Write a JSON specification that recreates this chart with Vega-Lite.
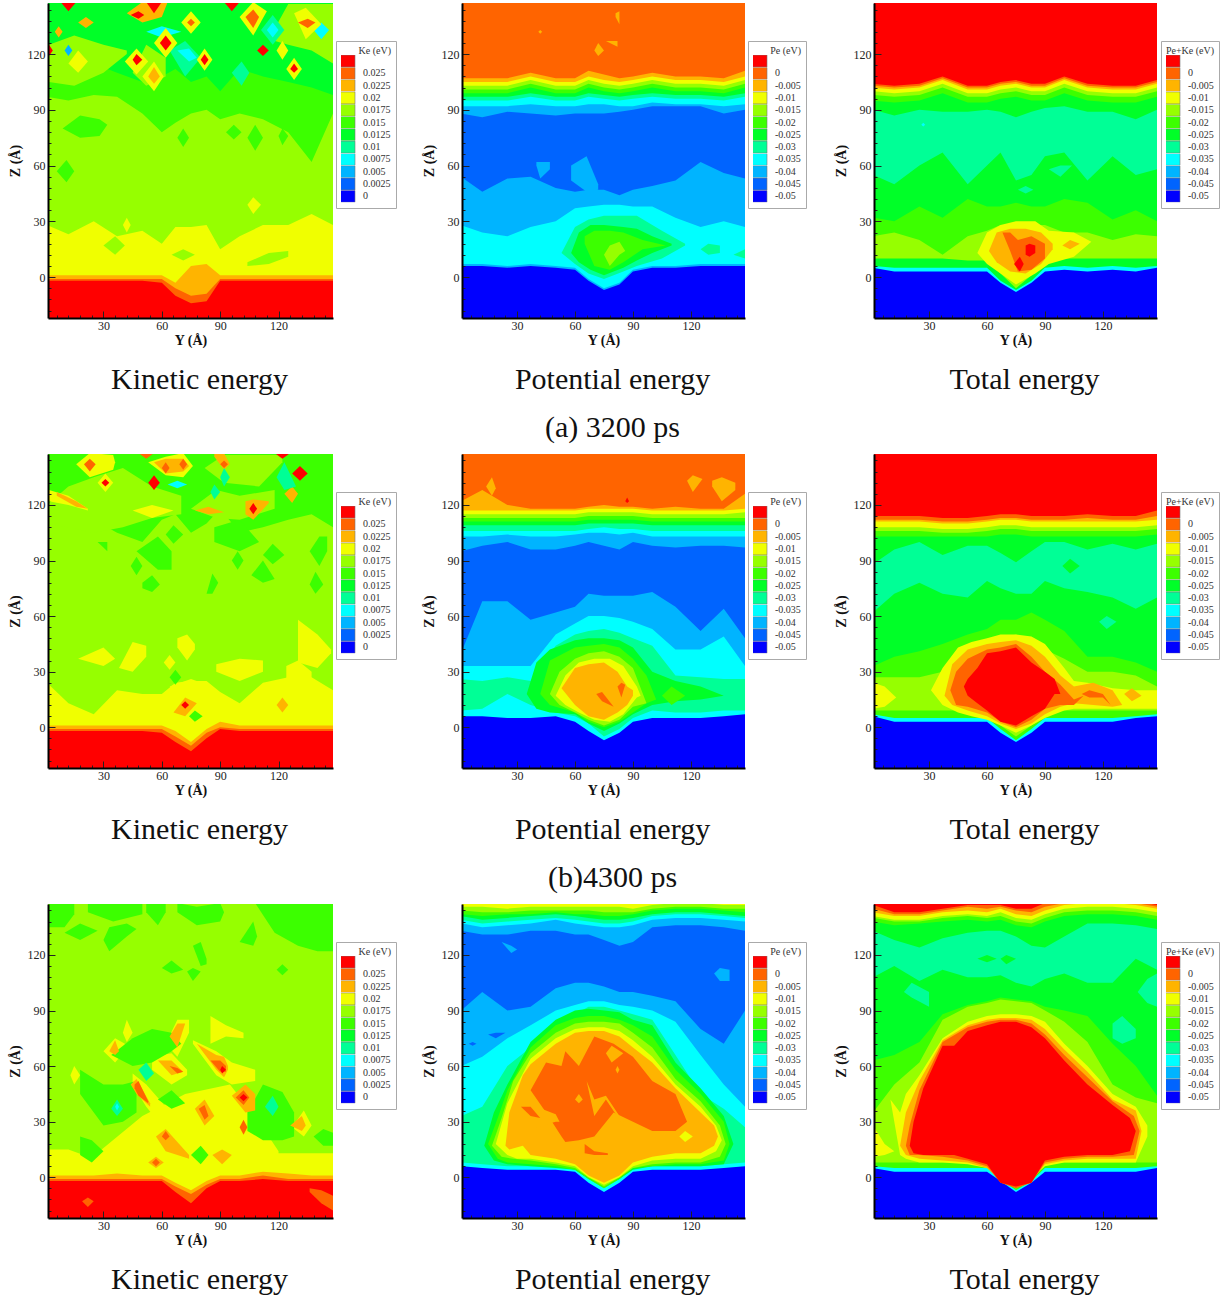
{"$schema":"https://vega.github.io/schema/vega-lite/v6.json","padding":{"left":8,"top":3,"right":0,"bottom":0},"background":"white","spacing":11,"resolve":{"scale":{"color":"independent"},"legend":{"color":"independent"}},
"config":{"view":{"stroke":null},"range":{"category":["#ff0000","#ff6400","#ffb400","#f0ff00","#96ff00","#3cff00","#00ff28","#00ff96","#00ffff","#00b4ff","#0064ff","#0000ff"]},"title":{"font":"Liberation Serif","fontSize":30,"fontWeight":"normal","color":"#111","orient":"bottom","frame":"group","offset":18,"dx":9,"lineHeight":48},"axis":{"grid":false,"labelFont":"Liberation Serif","labelFontSize":12,"labelColor":"#222","titleFont":"Liberation Serif","titleFontSize":14,"titleFontWeight":"bold","titleColor":"#111","domainColor":"#000","domainWidth":2,"tickColor":"#222","tickWidth":1,"labelOverlap":false,"labelBound":false,"labelFlush":false},"axisX":{"labelPadding":9,"titlePadding":-2},"axisY":{"labelPadding":10,"titlePadding":5},"legend":{"orient":"none","symbolType":"M-1.25,-1H1.25V1H-1.25Z","symbolSize":144,"symbolStrokeColor":"#777","symbolStrokeWidth":0.6,"clipHeight":12,"rowPadding":0.3,"labelFont":"Liberation Serif","labelFontSize":10,"labelColor":"#333","labelOffset":9,"titleFont":"Liberation Serif","titleFontSize":10,"titleFontWeight":"normal","titleColor":"#333","titleAnchor":"end","titlePadding":-1,"strokeColor":"#aaa","fillColor":"white","padding":5}},
"vconcat":[{"bounds":"flush","spacing":129,"resolve":{"scale":{"color":"independent"},"legend":{"color":"independent"}},"hconcat":[
{"width":285,"height":315,"title":"Kinetic energy",
"encoding":{"x":{"field":"x","type":"quantitative","scale":{"domain":[1.5,148],"nice":false},"axis":{"zindex":1,"title":"Y (Å)","values":[6,12,18,24,30,36,42,48,54,60,66,72,78,84,90,96,102,108,114,120,126,132,138,144],"labelExpr":"datum.value%30?'':datum.label","tickSize":{"condition":{"test":"datum.value%30===0","value":-7},"value":-3}}},"y":{"field":"z","type":"quantitative","scale":{"domain":[-22,147.5],"nice":false},"axis":{"zindex":1,"title":"Z (Å)","values":[-18,-12,-6,0,6,12,18,24,30,36,42,48,54,60,66,72,78,84,90,96,102,108,114,120,126,132,138,144],"labelExpr":"datum.value%30?'':datum.label","tickSize":{"condition":{"test":"datum.value%30===0","value":-7},"value":-3}}},"y2":{"field":"t"},"detail":{"field":"k"},"color":{"field":"l","type":"nominal","scale":{"domain":["l","k","j","i","h","g","f","e","d","c","b","a"]},"legend":{"title":"Ke (eV)","legendX":288,"legendY":38,"labelExpr":"['','0.025','0.0225','0.02','0.0175','0.015','0.0125','0.01','0.0075','0.005','0.0025','0'][indexof('lkjihgfedcba',datum.value)]"}}},
"layer":[{"data":{"values":[
{"x":1,"l0":-23,"k1":-2,"j2":-1,"i3":1,"h4":28,"g5":97,"f6":118},{"x":12,"l0":-23,"k1":-2,"j2":-1,"i3":1,"h4":23,"g5":95,"f6":120},{"x":25,"l0":-23,"k1":-2,"j2":-1,"i3":1,"h4":30,"g5":98,"f6":115},{"x":37,"l0":-23,"k1":-2,"j2":-1,"i3":1,"h4":22,"g5":97,"f6":110},{"x":50,"l0":-23,"k1":-2,"j2":-1,"i3":1,"h4":25,"g5":88,"f6":105},{"x":60,"l0":-23,"k1":-3,"j2":-1,"i3":1,"h4":18,"g5":78,"f6":108},{"x":67,"l0":-23,"k1":-10,"j2":-6,"i3":-3,"h4":27,"g5":83,"f6":112},{"x":75,"l0":-23,"k1":-14,"j2":-10,"i3":6,"h4":27,"g5":88,"f6":105},{"x":83,"l0":-23,"k1":-13,"j2":-9,"i3":7,"h4":28,"g5":90,"f6":108},{"x":90,"l0":-23,"k1":-2,"j2":-1,"i3":1,"h4":15,"g5":85,"f6":100},{"x":100,"l0":-23,"k1":-2,"j2":-1,"i3":1,"h4":22,"g5":88,"f6":112},{"x":112,"l0":-23,"k1":-2,"j2":-1,"i3":1,"h4":28,"g5":85,"f6":108},{"x":125,"l0":-23,"k1":-2,"j2":-1,"i3":1,"h4":28,"g5":78,"f6":105},{"x":137,"l0":-23,"k1":-2,"j2":-1,"i3":1,"h4":34,"g5":62,"f6":102},{"x":148,"l0":-23,"k1":-2,"j2":-1,"i3":1,"h4":28,"g5":88,"f6":98}]},
"transform":[{"fold":["l0","k1","j2","i3","h4","g5","f6"],"as":["k","z"]},{"calculate":"substring(datum.k,0,1)","as":"l"},{"calculate":"150","as":"t"}],"mark":{"type":"area","clip":true}},
{"data":{"values":[
{"k":1,"l":"h","x":2,"z":105,"t":125},{"k":1,"l":"h","x":15,"z":103,"t":130},{"k":1,"l":"h","x":30,"z":110,"t":125},{"k":1,"l":"h","x":42,"z":120,"t":122},
{"k":2,"l":"h","x":45,"z":110,"t":110},{"k":2,"l":"h","x":52,"z":103,"t":125},{"k":2,"l":"h","x":62,"z":108,"t":118},
{"k":3,"l":"h","x":115,"z":128,"t":128},{"k":3,"l":"h","x":125,"z":125,"t":147},{"k":3,"l":"h","x":137,"z":122,"t":147},{"k":3,"l":"h","x":148,"z":115,"t":147},
{"k":4,"l":"g","x":6,"z":57,"t":57},{"k":4,"l":"g","x":11,"z":51,"t":63},{"k":4,"l":"g","x":15,"z":57,"t":57},
{"k":5,"l":"g","x":9,"z":80,"t":80},{"k":5,"l":"g","x":18,"z":75,"t":87},{"k":5,"l":"g","x":28,"z":76,"t":85},{"k":5,"l":"g","x":32,"z":82,"t":82},
{"k":6,"l":"g","x":68,"z":75,"t":75},{"k":6,"l":"g","x":71,"z":70,"t":80},{"k":6,"l":"g","x":74,"z":75,"t":75},
{"k":7,"l":"g","x":93,"z":78,"t":78},{"k":7,"l":"g","x":97,"z":74,"t":82},{"k":7,"l":"g","x":101,"z":78,"t":78},
{"k":8,"l":"g","x":104,"z":75,"t":75},{"k":8,"l":"g","x":108,"z":68,"t":82},{"k":8,"l":"g","x":112,"z":75,"t":75},
{"k":9,"l":"g","x":120,"z":76,"t":76},{"k":9,"l":"g","x":122,"z":71,"t":80},{"k":9,"l":"g","x":125,"z":76,"t":76},
{"k":10,"l":"h","x":30,"z":17,"t":17},{"k":10,"l":"h","x":36,"z":12,"t":22},{"k":10,"l":"h","x":41,"z":17,"t":17},
{"k":11,"l":"h","x":104,"z":6,"t":8},{"k":11,"l":"h","x":115,"z":7,"t":13},{"k":11,"l":"h","x":125,"z":11,"t":14},
{"k":12,"l":"h","x":65,"z":12,"t":12},{"k":12,"l":"h","x":71,"z":9,"t":15},{"k":12,"l":"h","x":77,"z":12,"t":12},
{"k":13,"l":"i","x":104,"z":39,"t":39},{"k":13,"l":"i","x":107,"z":34,"t":43},{"k":13,"l":"i","x":111,"z":39,"t":39},
{"k":14,"l":"i","x":40,"z":28,"t":28},{"k":14,"l":"i","x":42,"z":24,"t":32},{"k":14,"l":"i","x":44,"z":28,"t":28},
{"k":20,"l":"e","x":111,"z":133,"t":133},{"k":20,"l":"e","x":117,"z":125,"t":141},{"k":20,"l":"e","x":123,"z":133,"t":133},
{"k":21,"l":"d","x":114,"z":133,"t":133},{"k":21,"l":"d","x":117,"z":129,"t":137},{"k":21,"l":"d","x":120,"z":133,"t":133},
{"k":22,"l":"e","x":64,"z":122,"t":122},{"k":22,"l":"e","x":72,"z":108,"t":127},{"k":22,"l":"e","x":80,"z":118,"t":118},
{"k":23,"l":"d","x":68,"z":122,"t":122},{"k":23,"l":"d","x":74,"z":116,"t":123},{"k":23,"l":"d","x":78,"z":118,"t":118},
{"k":24,"l":"d","x":52,"z":132,"t":132},{"k":24,"l":"d","x":60,"z":129,"t":135},{"k":24,"l":"d","x":70,"z":132,"t":132},
{"k":25,"l":"c","x":10,"z":122,"t":122},{"k":25,"l":"c","x":12,"z":119,"t":125},{"k":25,"l":"c","x":14,"z":122,"t":122},
{"k":26,"l":"d","x":138,"z":133,"t":133},{"k":26,"l":"d","x":142,"z":128,"t":137},{"k":26,"l":"d","x":146,"z":133,"t":133},
{"k":27,"l":"e","x":96,"z":110,"t":110},{"k":27,"l":"e","x":101,"z":103,"t":116},{"k":27,"l":"e","x":105,"z":110,"t":110},
{"k":30,"l":"i","x":56,"z":126,"t":126},{"k":30,"l":"i","x":62,"z":118,"t":134},{"k":30,"l":"i","x":68,"z":126,"t":126},
{"k":31,"l":"l","x":59,"z":126,"t":126},{"k":31,"l":"l","x":62,"z":122,"t":130},{"k":31,"l":"l","x":65,"z":126,"t":126},
{"k":32,"l":"i","x":41,"z":116,"t":116},{"k":32,"l":"i","x":47,"z":109,"t":123},{"k":32,"l":"i","x":53,"z":116,"t":116},
{"k":33,"l":"l","x":45,"z":117,"t":117},{"k":33,"l":"l","x":47,"z":114,"t":120},{"k":33,"l":"l","x":50,"z":117,"t":117},
{"k":34,"l":"i","x":78,"z":117,"t":117},{"k":34,"l":"i","x":82,"z":111,"t":123},{"k":34,"l":"i","x":86,"z":117,"t":117},
{"k":35,"l":"l","x":80,"z":117,"t":117},{"k":35,"l":"l","x":82,"z":114,"t":120},{"k":35,"l":"l","x":84,"z":117,"t":117},
{"k":36,"l":"i","x":50,"z":108,"t":108},{"k":36,"l":"i","x":56,"z":100,"t":116},{"k":36,"l":"i","x":61,"z":108,"t":108},
{"k":37,"l":"j","x":53,"z":108,"t":108},{"k":37,"l":"j","x":56,"z":104,"t":113},{"k":37,"l":"j","x":59,"z":108,"t":108},
{"k":38,"l":"j","x":42,"z":142,"t":142},{"k":38,"l":"j","x":50,"z":137,"t":148},{"k":38,"l":"j","x":60,"z":140,"t":148},{"k":38,"l":"j","x":63,"z":148,"t":148},
{"k":39,"l":"l","x":44,"z":141,"t":141},{"k":39,"l":"l","x":48,"z":139,"t":143},{"k":39,"l":"l","x":51,"z":141,"t":141},
{"k":40,"l":"l","x":52,"z":148,"t":148},{"k":40,"l":"l","x":56,"z":142,"t":148},{"k":40,"l":"l","x":60,"z":148,"t":148},
{"k":41,"l":"l","x":8,"z":148,"t":148},{"k":41,"l":"l","x":12,"z":143,"t":148},{"k":41,"l":"l","x":16,"z":148,"t":148},
{"k":42,"l":"l","x":92,"z":148,"t":148},{"k":42,"l":"l","x":96,"z":143,"t":148},{"k":42,"l":"l","x":100,"z":148,"t":148},
{"k":43,"l":"i","x":100,"z":140,"t":140},{"k":43,"l":"i","x":107,"z":130,"t":148},{"k":43,"l":"i","x":114,"z":143,"t":143},
{"k":44,"l":"k","x":103,"z":140,"t":140},{"k":44,"l":"k","x":107,"z":134,"t":144},{"k":44,"l":"k","x":110,"z":140,"t":140},
{"k":45,"l":"i","x":128,"z":142,"t":142},{"k":45,"l":"i","x":134,"z":128,"t":145},{"k":45,"l":"i","x":142,"z":136,"t":136},
{"k":46,"l":"k","x":130,"z":137,"t":137},{"k":46,"l":"k","x":135,"z":134,"t":139},{"k":46,"l":"k","x":139,"z":137,"t":137},
{"k":47,"l":"i","x":70,"z":137,"t":137},{"k":47,"l":"i","x":75,"z":131,"t":143},{"k":47,"l":"i","x":80,"z":137,"t":137},
{"k":48,"l":"k","x":73,"z":137,"t":137},{"k":48,"l":"k","x":75,"z":135,"t":139},{"k":48,"l":"k","x":77,"z":137,"t":137},
{"k":49,"l":"j","x":17,"z":137,"t":137},{"k":49,"l":"j","x":21,"z":134,"t":140},{"k":49,"l":"j","x":25,"z":137,"t":137},
{"k":50,"l":"i","x":124,"z":112,"t":112},{"k":50,"l":"i","x":128,"z":106,"t":118},{"k":50,"l":"i","x":132,"z":112,"t":112},
{"k":51,"l":"l","x":126,"z":112,"t":112},{"k":51,"l":"l","x":128,"z":110,"t":115},{"k":51,"l":"l","x":130,"z":112,"t":112},
{"k":52,"l":"l","x":109,"z":122,"t":122},{"k":52,"l":"l","x":112,"z":119,"t":125},{"k":52,"l":"l","x":115,"z":122,"t":122},
{"k":53,"l":"i","x":119,"z":122,"t":122},{"k":53,"l":"i","x":122,"z":117,"t":127},{"k":53,"l":"i","x":125,"z":122,"t":122},
{"k":54,"l":"l","x":1,"z":122,"t":122},{"k":54,"l":"l","x":2,"z":119,"t":125},{"k":54,"l":"l","x":4,"z":122,"t":122},
{"k":55,"l":"j","x":5,"z":132,"t":132},{"k":55,"l":"j","x":7,"z":129,"t":135},{"k":55,"l":"j","x":9,"z":132,"t":132},
{"k":56,"l":"i","x":12,"z":115,"t":115},{"k":56,"l":"i","x":17,"z":110,"t":122},{"k":56,"l":"i","x":22,"z":116,"t":116}]},"mark":{"type":"area","clip":true}}]},
{"width":283,"height":315,"title":["Potential energy","(a) 3200 ps"],
"encoding":{"x":{"field":"x","type":"quantitative","scale":{"domain":[1.5,148],"nice":false},"axis":{"zindex":1,"title":"Y (Å)","values":[6,12,18,24,30,36,42,48,54,60,66,72,78,84,90,96,102,108,114,120,126,132,138,144],"labelExpr":"datum.value%30?'':datum.label","tickSize":{"condition":{"test":"datum.value%30===0","value":-7},"value":-3}}},"y":{"field":"z","type":"quantitative","scale":{"domain":[-22,147.5],"nice":false},"axis":{"zindex":1,"title":"Z (Å)","values":[-18,-12,-6,0,6,12,18,24,30,36,42,48,54,60,66,72,78,84,90,96,102,108,114,120,126,132,138,144],"labelExpr":"datum.value%30?'':datum.label","tickSize":{"condition":{"test":"datum.value%30===0","value":-7},"value":-3}}},"y2":{"field":"t"},"detail":{"field":"k"},"color":{"field":"l","type":"nominal","scale":{"domain":["l","k","j","i","h","g","f","e","d","c","b","a"]},"legend":{"title":"Pe (eV)","legendX":286,"legendY":38,"labelExpr":"['','0','-0.005','-0.01','-0.015','-0.02','-0.025','-0.03','-0.035','-0.04','-0.045','-0.05'][indexof('lkjihgfedcba',datum.value)]"}}},
"layer":[{"data":{"values":[
{"x":1,"a0":-23,"c1":6,"d2":7,"c3":28,"b4":54,"c5":88,"d6":92,"e7":95,"f8":97,"g9":99,"h10":101,"i11":103,"j12":105,"k13":107},{"x":12,"a0":-23,"c1":6,"d2":7,"c3":24,"b4":46,"c5":86,"d6":92,"e7":95,"f8":97,"g9":99,"h10":101,"i11":103,"j12":105,"k13":107},{"x":25,"a0":-23,"c1":5,"d2":6,"c3":22,"b4":53,"c5":89,"d6":92,"e7":95,"f8":97,"g9":99,"h10":101,"i11":103,"j12":105,"k13":107},{"x":37,"a0":-23,"c1":6,"d2":7,"c3":27,"b4":54,"c5":88,"d6":93,"e7":97,"f8":99,"g9":102,"h10":104,"i11":106,"j12":108,"k13":110},{"x":50,"a0":-23,"c1":5,"d2":6,"c3":30,"b4":48,"c5":87,"d6":92,"e7":95,"f8":97,"g9":99,"h10":101,"i11":103,"j12":105,"k13":107},{"x":60,"a0":-23,"c1":4,"d2":5,"c3":37,"b4":46,"c5":88,"d6":92,"e7":95,"f8":97,"g9":99,"h10":101,"i11":103,"j12":105,"k13":107},{"x":67,"a0":-23,"c1":-2,"d2":-1,"c3":38,"b4":47,"c5":88,"d6":93,"e7":97,"f8":99,"g9":102,"h10":104,"i11":106,"j12":108,"k13":111},{"x":75,"a0":-23,"c1":-7,"d2":-6,"c3":39,"b4":47,"c5":88,"d6":93,"e7":96,"f8":98,"g9":100,"h10":102,"i11":104,"j12":106,"k13":109},{"x":83,"a0":-23,"c1":-4,"d2":-3,"c3":39,"b4":44,"c5":89,"d6":92,"e7":95,"f8":97,"g9":99,"h10":101,"i11":103,"j12":105,"k13":107},{"x":90,"a0":-23,"c1":3,"d2":4,"c3":38,"b4":47,"c5":90,"d6":92,"e7":96,"f8":98,"g9":100,"h10":102,"i11":104,"j12":106,"k13":108},{"x":100,"a0":-23,"c1":5,"d2":6,"c3":38,"b4":49,"c5":92,"d6":94,"e7":97,"f8":99,"g9":102,"h10":104,"i11":106,"j12":108,"k13":110},{"x":112,"a0":-23,"c1":5,"d2":6,"c3":32,"b4":52,"c5":92,"d6":93,"e7":96,"f8":98,"g9":100,"h10":102,"i11":104,"j12":106,"k13":108},{"x":125,"a0":-23,"c1":6,"d2":7,"c3":27,"b4":62,"c5":92,"d6":93,"e7":96,"f8":98,"g9":100,"h10":102,"i11":104,"j12":106,"k13":108},{"x":137,"a0":-23,"c1":6,"d2":7,"c3":30,"b4":56,"c5":88,"d6":92,"e7":95,"f8":97,"g9":99,"h10":101,"i11":103,"j12":105,"k13":107},{"x":148,"a0":-23,"c1":6,"d2":7,"c3":27,"b4":53,"c5":90,"d6":93,"e7":97,"f8":99,"g9":102,"h10":104,"i11":106,"j12":108,"k13":111}]},
"transform":[{"fold":["a0","c1","d2","c3","b4","c5","d6","e7","f8","g9","h10","i11","j12","k13"],"as":["k","z"]},{"calculate":"substring(datum.k,0,1)","as":"l"},{"calculate":"150","as":"t"}],"mark":{"type":"area","clip":true}},
{"data":{"values":[
{"k":1,"l":"e","x":53,"z":13,"t":13},{"k":1,"l":"e","x":60,"z":7,"t":27},{"k":1,"l":"e","x":67,"z":2,"t":31},{"k":1,"l":"e","x":75,"z":-1,"t":33},{"k":1,"l":"e","x":85,"z":3,"t":33},{"k":1,"l":"e","x":92,"z":6,"t":33},{"k":1,"l":"e","x":105,"z":10,"t":25},{"k":1,"l":"e","x":117,"z":17,"t":18},
{"k":2,"l":"f","x":58,"z":13,"t":13},{"k":2,"l":"f","x":62,"z":8,"t":24},{"k":2,"l":"f","x":68,"z":4,"t":28},{"k":2,"l":"f","x":75,"z":1,"t":28},{"k":2,"l":"f","x":85,"z":5,"t":27},{"k":2,"l":"f","x":92,"z":9,"t":26},{"k":2,"l":"f","x":100,"z":13,"t":22},{"k":2,"l":"f","x":110,"z":17,"t":18},
{"k":3,"l":"g","x":65,"z":18,"t":22},{"k":3,"l":"g","x":70,"z":6,"t":25},{"k":3,"l":"g","x":78,"z":4,"t":25},{"k":3,"l":"g","x":85,"z":8,"t":24},{"k":3,"l":"g","x":95,"z":15,"t":20},{"k":3,"l":"g","x":107,"z":17,"t":17},
{"k":4,"l":"h","x":75,"z":12,"t":12},{"k":4,"l":"h","x":78,"z":6,"t":17},{"k":4,"l":"h","x":83,"z":12,"t":19},{"k":4,"l":"h","x":86,"z":14,"t":14},
{"k":5,"l":"e","x":125,"z":15,"t":15},{"k":5,"l":"e","x":129,"z":12,"t":18},{"k":5,"l":"e","x":135,"z":13,"t":17},
{"k":6,"l":"e","x":142,"z":12,"t":12},{"k":6,"l":"e","x":148,"z":10,"t":15},
{"k":7,"l":"j","x":70,"z":122,"t":122},{"k":7,"l":"j","x":72,"z":119,"t":126},{"k":7,"l":"j","x":75,"z":122,"t":122},
{"k":8,"l":"j","x":76,"z":127,"t":127},{"k":8,"l":"j","x":82,"z":124,"t":127},
{"k":9,"l":"j","x":81,"z":140,"t":142},{"k":9,"l":"j","x":83,"z":136,"t":143},
{"k":10,"l":"j","x":41,"z":132,"t":132},{"k":10,"l":"j","x":42,"z":131,"t":133},{"k":10,"l":"j","x":43,"z":132,"t":132},
{"k":11,"l":"c","x":40,"z":60,"t":62},{"k":11,"l":"c","x":42,"z":53,"t":62},{"k":11,"l":"c","x":47,"z":58,"t":62},
{"k":12,"l":"c","x":58,"z":52,"t":60},{"k":12,"l":"c","x":66,"z":46,"t":65},{"k":12,"l":"c","x":72,"z":47,"t":50}]},"mark":{"type":"area","clip":true}}]},
{"width":283,"height":315,"title":"Total energy",
"encoding":{"x":{"field":"x","type":"quantitative","scale":{"domain":[1.5,148],"nice":false},"axis":{"zindex":1,"title":"Y (Å)","values":[6,12,18,24,30,36,42,48,54,60,66,72,78,84,90,96,102,108,114,120,126,132,138,144],"labelExpr":"datum.value%30?'':datum.label","tickSize":{"condition":{"test":"datum.value%30===0","value":-7},"value":-3}}},"y":{"field":"z","type":"quantitative","scale":{"domain":[-22,147.5],"nice":false},"axis":{"zindex":1,"title":"Z (Å)","values":[-18,-12,-6,0,6,12,18,24,30,36,42,48,54,60,66,72,78,84,90,96,102,108,114,120,126,132,138,144],"labelExpr":"datum.value%30?'':datum.label","tickSize":{"condition":{"test":"datum.value%30===0","value":-7},"value":-3}}},"y2":{"field":"t"},"detail":{"field":"k"},"color":{"field":"l","type":"nominal","scale":{"domain":["l","k","j","i","h","g","f","e","d","c","b","a"]},"legend":{"title":"Pe+Ke (eV)","legendX":287,"legendY":38,"labelExpr":"['','0','-0.005','-0.01','-0.015','-0.02','-0.025','-0.03','-0.035','-0.04','-0.045','-0.05'][indexof('lkjihgfedcba',datum.value)]"}}},
"layer":[{"data":{"values":[
{"x":1,"a0":-23,"d1":5,"f2":6,"h3":10,"g4":22,"f5":32,"e6":55,"f7":90,"g8":95,"h9":98,"i10":100,"j11":102,"k12":103,"l13":104},{"x":12,"a0":-23,"d1":3,"f2":5,"h3":10,"g4":24,"f5":30,"e6":50,"f7":87,"g8":94,"h9":97,"i10":99,"j11":101,"k12":102,"l13":103},{"x":25,"a0":-23,"d1":3,"f2":5,"h3":10,"g4":20,"f5":38,"e6":60,"f7":90,"g8":95,"h9":98,"i10":100,"j11":102,"k12":103,"l13":104},{"x":37,"a0":-23,"d1":3,"f2":5,"h3":10,"g4":12,"f5":32,"e6":67,"f7":89,"g8":99,"h9":102,"i10":104,"j11":106,"k12":107,"l13":108},{"x":50,"a0":-23,"d1":3,"f2":5,"h3":9,"g4":22,"f5":42,"e6":50,"f7":89,"g8":94,"h9":97,"i10":99,"j11":101,"k12":102,"l13":103},{"x":60,"a0":-23,"d1":3,"f2":5,"h3":9,"g4":25,"f5":38,"e6":60,"f7":90,"g8":94,"h9":97,"i10":99,"j11":101,"k12":102,"l13":103},{"x":67,"a0":-23,"d1":-3,"f2":-2,"h3":2,"g4":28,"f5":38,"e6":67,"f7":89,"g8":96,"h9":99,"i10":101,"j11":103,"k12":104,"l13":105},{"x":75,"a0":-23,"d1":-8,"f2":-7,"h3":-6,"g4":28,"f5":40,"e6":52,"f7":86,"g8":97,"h9":100,"i10":102,"j11":104,"k12":105,"l13":106},{"x":83,"a0":-23,"d1":-3,"f2":-2,"h3":1,"g4":28,"f5":38,"e6":55,"f7":89,"g8":95,"h9":98,"i10":100,"j11":102,"k12":103,"l13":104},{"x":90,"a0":-23,"d1":3,"f2":5,"h3":9,"g4":28,"f5":38,"e6":65,"f7":91,"g8":95,"h9":98,"i10":100,"j11":102,"k12":103,"l13":104},{"x":100,"a0":-23,"d1":4,"f2":6,"h3":10,"g4":24,"f5":42,"e6":67,"f7":92,"g8":99,"h9":102,"i10":104,"j11":106,"k12":107,"l13":108},{"x":112,"a0":-23,"d1":3,"f2":5,"h3":10,"g4":24,"f5":40,"e6":52,"f7":89,"g8":95,"h9":98,"i10":100,"j11":102,"k12":103,"l13":104},{"x":125,"a0":-23,"d1":4,"f2":6,"h3":10,"g4":20,"f5":31,"e6":65,"f7":89,"g8":94,"h9":97,"i10":99,"j11":101,"k12":102,"l13":103},{"x":137,"a0":-23,"d1":3,"f2":5,"h3":10,"g4":23,"f5":36,"e6":55,"f7":85,"g8":94,"h9":97,"i10":99,"j11":101,"k12":102,"l13":103},{"x":148,"a0":-23,"d1":5,"f2":6,"h3":10,"g4":22,"f5":30,"e6":58,"f7":90,"g8":97,"h9":100,"i10":102,"j11":104,"k12":105,"l13":106}]},
"transform":[{"fold":["a0","d1","f2","h3","g4","f5","e6","f7","g8","h9","i10","j11","k12","l13"],"as":["k","z"]},{"calculate":"substring(datum.k,0,1)","as":"l"},{"calculate":"150","as":"t"}],"mark":{"type":"area","clip":true}},
{"data":{"values":[
{"k":1,"l":"i","x":55,"z":13,"t":13},{"k":1,"l":"i","x":60,"z":7,"t":24},{"k":1,"l":"i","x":67,"z":2,"t":28},{"k":1,"l":"i","x":75,"z":-4,"t":30},{"k":1,"l":"i","x":85,"z":2,"t":30},{"k":1,"l":"i","x":92,"z":7,"t":25},{"k":1,"l":"i","x":105,"z":11,"t":24},{"k":1,"l":"i","x":114,"z":19,"t":19},
{"k":2,"l":"j","x":61,"z":14,"t":14},{"k":2,"l":"j","x":65,"z":8,"t":24},{"k":2,"l":"j","x":72,"z":3,"t":26},{"k":2,"l":"j","x":80,"z":2,"t":26},{"k":2,"l":"j","x":88,"z":7,"t":24},{"k":2,"l":"j","x":94,"z":15,"t":18},
{"k":3,"l":"j","x":99,"z":17,"t":17},{"k":3,"l":"j","x":103,"z":15,"t":20},{"k":3,"l":"j","x":108,"z":18,"t":18},
{"k":4,"l":"k","x":68,"z":24,"t":24},{"k":4,"l":"k","x":72,"z":14,"t":24},{"k":4,"l":"k","x":76,"z":3,"t":20},{"k":4,"l":"k","x":83,"z":4,"t":22},{"k":4,"l":"k","x":90,"z":10,"t":18},
{"k":5,"l":"l","x":74,"z":7,"t":7},{"k":5,"l":"l","x":77,"z":3,"t":11},{"k":5,"l":"l","x":79,"z":7,"t":7},
{"k":6,"l":"l","x":80,"z":12,"t":17},{"k":6,"l":"l","x":82,"z":11,"t":18},{"k":6,"l":"l","x":85,"z":13,"t":17},
{"k":7,"l":"e","x":76,"z":47,"t":47},{"k":7,"l":"e","x":80,"z":45,"t":49},{"k":7,"l":"e","x":84,"z":47,"t":47},
{"k":8,"l":"e","x":92,"z":58,"t":58},{"k":8,"l":"e","x":98,"z":54,"t":60},{"k":8,"l":"e","x":104,"z":60,"t":60},
{"k":10,"l":"d","x":26,"z":82,"t":82},{"k":10,"l":"d","x":27,"z":81,"t":83},{"k":10,"l":"d","x":28,"z":82,"t":82}]},"mark":{"type":"area","clip":true}}]}
]},
{"bounds":"flush","spacing":129,"resolve":{"scale":{"color":"independent"},"legend":{"color":"independent"}},"hconcat":[
{"width":285,"height":314,"title":"Kinetic energy",
"encoding":{"x":{"field":"x","type":"quantitative","scale":{"domain":[1.5,148],"nice":false},"axis":{"zindex":1,"title":"Y (Å)","values":[6,12,18,24,30,36,42,48,54,60,66,72,78,84,90,96,102,108,114,120,126,132,138,144],"labelExpr":"datum.value%30?'':datum.label","tickSize":{"condition":{"test":"datum.value%30===0","value":-7},"value":-3}}},"y":{"field":"z","type":"quantitative","scale":{"domain":[-22,147.5],"nice":false},"axis":{"zindex":1,"title":"Z (Å)","values":[-18,-12,-6,0,6,12,18,24,30,36,42,48,54,60,66,72,78,84,90,96,102,108,114,120,126,132,138,144],"labelExpr":"datum.value%30?'':datum.label","tickSize":{"condition":{"test":"datum.value%30===0","value":-7},"value":-3}}},"y2":{"field":"t"},"detail":{"field":"k"},"color":{"field":"l","type":"nominal","scale":{"domain":["l","k","j","i","h","g","f","e","d","c","b","a"]},"legend":{"title":"Ke (eV)","legendX":288,"legendY":38,"labelExpr":"['','0.025','0.0225','0.02','0.0175','0.015','0.0125','0.01','0.0075','0.005','0.0025','0'][indexof('lkjihgfedcba',datum.value)]"}}},
"layer":[{"data":{"values":[
{"x":1,"l0":-23,"k1":-2,"j2":-1,"i3":1,"h4":24,"g5":112},{"x":12,"l0":-23,"k1":-2,"j2":-1,"i3":1,"h4":13,"g5":113},{"x":25,"l0":-23,"k1":-2,"j2":-1,"i3":1,"h4":7,"g5":112},{"x":37,"l0":-23,"k1":-2,"j2":-1,"i3":1,"h4":20,"g5":105},{"x":50,"l0":-23,"k1":-2,"j2":-1,"i3":1,"h4":18,"g5":100},{"x":60,"l0":-23,"k1":-3,"j2":-1,"i3":1,"h4":18,"g5":112},{"x":67,"l0":-23,"k1":-8,"j2":-5,"i3":-2,"h4":24,"g5":115},{"x":75,"l0":-23,"k1":-13,"j2":-10,"i3":-8,"h4":25,"g5":105},{"x":83,"l0":-23,"k1":-6,"j2":-3,"i3":-1,"h4":25,"g5":110},{"x":90,"l0":-23,"k1":-1,"j2":0,"i3":3,"h4":19,"g5":118},{"x":100,"l0":-23,"k1":-2,"j2":-1,"i3":1,"h4":13,"g5":105},{"x":112,"l0":-23,"k1":-2,"j2":-1,"i3":1,"h4":24,"g5":108},{"x":125,"l0":-23,"k1":-2,"j2":-1,"i3":1,"h4":27,"g5":112},{"x":137,"l0":-23,"k1":-2,"j2":-1,"i3":1,"h4":27,"g5":115},{"x":148,"l0":-23,"k1":-2,"j2":-1,"i3":1,"h4":20,"g5":108}]},
"transform":[{"fold":["l0","k1","j2","i3","h4","g5"],"as":["k","z"]},{"calculate":"substring(datum.k,0,1)","as":"l"},{"calculate":"150","as":"t"}],"mark":{"type":"area","clip":true}},
{"data":{"values":[
{"k":1,"l":"i","x":17,"z":37,"t":37},{"k":1,"l":"i","x":30,"z":33,"t":43},{"k":1,"l":"i","x":36,"z":37,"t":37},
{"k":2,"l":"i","x":38,"z":32,"t":32},{"k":2,"l":"i","x":45,"z":30,"t":46},{"k":2,"l":"i","x":52,"z":38,"t":44},
{"k":3,"l":"i","x":68,"z":43,"t":48},{"k":3,"l":"i","x":73,"z":36,"t":50},{"k":3,"l":"i","x":77,"z":42,"t":45},
{"k":4,"l":"i","x":88,"z":30,"t":34},{"k":4,"l":"i","x":100,"z":25,"t":37},{"k":4,"l":"i","x":112,"z":30,"t":36},
{"k":5,"l":"i","x":130,"z":35,"t":58},{"k":5,"l":"i","x":140,"z":32,"t":50},{"k":5,"l":"i","x":147,"z":40,"t":42},
{"k":6,"l":"i","x":124,"z":25,"t":33},{"k":6,"l":"i","x":130,"z":18,"t":36},{"k":6,"l":"i","x":137,"z":25,"t":30},
{"k":7,"l":"i","x":64,"z":22,"t":22},{"k":7,"l":"i","x":75,"z":15,"t":26},{"k":7,"l":"i","x":86,"z":22,"t":22},
{"k":8,"l":"i","x":61,"z":35,"t":35},{"k":8,"l":"i","x":64,"z":31,"t":39},{"k":8,"l":"i","x":67,"z":35,"t":35},
{"k":10,"l":"j","x":66,"z":8,"t":8},{"k":10,"l":"j","x":72,"z":6,"t":16},{"k":10,"l":"j","x":78,"z":13,"t":13},
{"k":11,"l":"l","x":70,"z":12,"t":12},{"k":11,"l":"l","x":72,"z":10,"t":14},{"k":11,"l":"l","x":74,"z":12,"t":12},
{"k":12,"l":"j","x":119,"z":12,"t":12},{"k":12,"l":"j","x":122,"z":8,"t":16},{"k":12,"l":"j","x":125,"z":12,"t":12},
{"k":13,"l":"g","x":47,"z":95,"t":95},{"k":13,"l":"g","x":58,"z":85,"t":103},{"k":13,"l":"g","x":65,"z":85,"t":95},
{"k":14,"l":"g","x":87,"z":100,"t":108},{"k":14,"l":"g","x":100,"z":95,"t":112},{"k":14,"l":"g","x":110,"z":100,"t":100},
{"k":15,"l":"g","x":112,"z":93,"t":93},{"k":15,"l":"g","x":117,"z":88,"t":99},{"k":15,"l":"g","x":123,"z":93,"t":93},
{"k":16,"l":"g","x":106,"z":82,"t":82},{"k":16,"l":"g","x":112,"z":78,"t":90},{"k":16,"l":"g","x":118,"z":80,"t":80},
{"k":17,"l":"g","x":83,"z":72,"t":72},{"k":17,"l":"g","x":86,"z":72,"t":83},{"k":17,"l":"g","x":89,"z":78,"t":78},
{"k":18,"l":"g","x":50,"z":75,"t":78},{"k":18,"l":"g","x":55,"z":73,"t":82},{"k":18,"l":"g","x":59,"z":77,"t":77},
{"k":19,"l":"g","x":136,"z":77,"t":77},{"k":19,"l":"g","x":139,"z":72,"t":84},{"k":19,"l":"g","x":143,"z":77,"t":77},
{"k":20,"l":"g","x":136,"z":95,"t":95},{"k":20,"l":"g","x":141,"z":87,"t":103},{"k":20,"l":"g","x":145,"z":95,"t":103},
{"k":21,"l":"g","x":44,"z":87,"t":87},{"k":21,"l":"g","x":47,"z":82,"t":92},{"k":21,"l":"g","x":50,"z":87,"t":87},
{"k":22,"l":"g","x":96,"z":90,"t":90},{"k":22,"l":"g","x":99,"z":85,"t":95},{"k":22,"l":"g","x":102,"z":90,"t":90},
{"k":23,"l":"g","x":27,"z":100,"t":100},{"k":23,"l":"g","x":32,"z":95,"t":100},
{"k":24,"l":"g","x":62,"z":104,"t":104},{"k":24,"l":"g","x":66,"z":99,"t":109},{"k":24,"l":"g","x":71,"z":104,"t":104},
{"k":25,"l":"g","x":64,"z":27,"t":27},{"k":25,"l":"g","x":67,"z":23,"t":31},{"k":25,"l":"g","x":70,"z":27,"t":27},
{"k":26,"l":"g","x":74,"z":6,"t":6},{"k":26,"l":"g","x":77,"z":3,"t":9},{"k":26,"l":"g","x":81,"z":6,"t":6},
{"k":30,"l":"h","x":1,"z":110,"t":120},{"k":30,"l":"h","x":12,"z":108,"t":130},{"k":30,"l":"h","x":25,"z":105,"t":135},{"k":30,"l":"h","x":40,"z":108,"t":140},{"k":30,"l":"h","x":55,"z":113,"t":130},{"k":30,"l":"h","x":70,"z":115,"t":125},
{"k":31,"l":"h","x":75,"z":118,"t":118},{"k":31,"l":"h","x":88,"z":113,"t":128},{"k":31,"l":"h","x":100,"z":112,"t":125},{"k":31,"l":"h","x":118,"z":118,"t":128},
{"k":32,"l":"h","x":82,"z":140,"t":140},{"k":32,"l":"h","x":92,"z":132,"t":147},{"k":32,"l":"h","x":110,"z":130,"t":147},{"k":32,"l":"h","x":122,"z":143,"t":147},
{"k":33,"l":"i","x":45,"z":117,"t":117},{"k":33,"l":"i","x":55,"z":113,"t":120},{"k":33,"l":"i","x":66,"z":117,"t":117},
{"k":34,"l":"i","x":2,"z":122,"t":128},{"k":34,"l":"i","x":12,"z":120,"t":125},{"k":34,"l":"i","x":22,"z":117,"t":118},
{"k":35,"l":"j","x":6,"z":125,"t":127},{"k":35,"l":"j","x":16,"z":119,"t":122},{"k":35,"l":"j","x":22,"z":118,"t":118},
{"k":36,"l":"i","x":16,"z":142,"t":142},{"k":36,"l":"i","x":23,"z":135,"t":148},{"k":36,"l":"i","x":35,"z":139,"t":147},{"k":36,"l":"i","x":36,"z":143,"t":143},
{"k":37,"l":"k","x":20,"z":142,"t":142},{"k":37,"l":"k","x":23,"z":138,"t":145},{"k":37,"l":"k","x":26,"z":142,"t":142},
{"k":38,"l":"i","x":27,"z":132,"t":132},{"k":38,"l":"i","x":31,"z":127,"t":137},{"k":38,"l":"i","x":35,"z":132,"t":132},
{"k":39,"l":"l","x":29,"z":132,"t":132},{"k":39,"l":"l","x":31,"z":130,"t":134},{"k":39,"l":"l","x":33,"z":132,"t":132},
{"k":40,"l":"i","x":53,"z":143,"t":143},{"k":40,"l":"i","x":62,"z":136,"t":146},{"k":40,"l":"i","x":71,"z":135,"t":148},{"k":40,"l":"i","x":76,"z":141,"t":141},
{"k":41,"l":"j","x":56,"z":143,"t":143},{"k":41,"l":"j","x":62,"z":137,"t":145},{"k":41,"l":"j","x":71,"z":138,"t":145},{"k":41,"l":"j","x":74,"z":141,"t":141},
{"k":42,"l":"k","x":60,"z":140,"t":140},{"k":42,"l":"k","x":62,"z":137,"t":143},{"k":42,"l":"k","x":64,"z":140,"t":140},
{"k":43,"l":"k","x":69,"z":142,"t":142},{"k":43,"l":"k","x":71,"z":139,"t":145},{"k":43,"l":"k","x":73,"z":142,"t":142},
{"k":44,"l":"l","x":53,"z":132,"t":132},{"k":44,"l":"l","x":56,"z":128,"t":136},{"k":44,"l":"l","x":59,"z":132,"t":132},
{"k":45,"l":"l","x":127,"z":137,"t":137},{"k":45,"l":"l","x":131,"z":133,"t":141},{"k":45,"l":"l","x":135,"z":137,"t":137},
{"k":46,"l":"j","x":87,"z":146,"t":148},{"k":46,"l":"j","x":92,"z":139,"t":148},{"k":46,"l":"j","x":95,"z":142,"t":142},
{"k":47,"l":"k","x":90,"z":142,"t":142},{"k":47,"l":"k","x":92,"z":140,"t":144},{"k":47,"l":"k","x":94,"z":142,"t":142},
{"k":48,"l":"j","x":103,"z":115,"t":122},{"k":48,"l":"j","x":107,"z":112,"t":123},{"k":48,"l":"j","x":115,"z":121,"t":122},
{"k":49,"l":"l","x":105,"z":118,"t":118},{"k":49,"l":"l","x":107,"z":115,"t":121},{"k":49,"l":"l","x":109,"z":118,"t":118},
{"k":50,"l":"j","x":123,"z":126,"t":126},{"k":50,"l":"j","x":127,"z":121,"t":130},{"k":50,"l":"j","x":130,"z":126,"t":126},
{"k":51,"l":"j","x":77,"z":117,"t":117},{"k":51,"l":"j","x":84,"z":115,"t":119},{"k":51,"l":"j","x":92,"z":116,"t":116},
{"k":52,"l":"k","x":48,"z":148,"t":148},{"k":52,"l":"k","x":52,"z":145,"t":148},{"k":52,"l":"k","x":56,"z":148,"t":148},
{"k":53,"l":"l","x":118,"z":148,"t":148},{"k":53,"l":"l","x":122,"z":145,"t":148},{"k":53,"l":"l","x":126,"z":148,"t":148},
{"k":60,"l":"e","x":119,"z":135,"t":135},{"k":60,"l":"e","x":123,"z":128,"t":143},{"k":60,"l":"e","x":129,"z":130,"t":130},
{"k":61,"l":"e","x":85,"z":127,"t":127},{"k":61,"l":"e","x":87,"z":123,"t":131},{"k":61,"l":"e","x":90,"z":127,"t":127},
{"k":62,"l":"e","x":90,"z":135,"t":135},{"k":62,"l":"e","x":92,"z":130,"t":140},{"k":62,"l":"e","x":95,"z":135,"t":135},
{"k":63,"l":"d","x":63,"z":131,"t":131},{"k":63,"l":"d","x":68,"z":129,"t":133},{"k":63,"l":"d","x":73,"z":131,"t":131}]},"mark":{"type":"area","clip":true}}]},
{"width":283,"height":314,"title":["Potential energy","(b)4300 ps"],
"encoding":{"x":{"field":"x","type":"quantitative","scale":{"domain":[1.5,148],"nice":false},"axis":{"zindex":1,"title":"Y (Å)","values":[6,12,18,24,30,36,42,48,54,60,66,72,78,84,90,96,102,108,114,120,126,132,138,144],"labelExpr":"datum.value%30?'':datum.label","tickSize":{"condition":{"test":"datum.value%30===0","value":-7},"value":-3}}},"y":{"field":"z","type":"quantitative","scale":{"domain":[-22,147.5],"nice":false},"axis":{"zindex":1,"title":"Z (Å)","values":[-18,-12,-6,0,6,12,18,24,30,36,42,48,54,60,66,72,78,84,90,96,102,108,114,120,126,132,138,144],"labelExpr":"datum.value%30?'':datum.label","tickSize":{"condition":{"test":"datum.value%30===0","value":-7},"value":-3}}},"y2":{"field":"t"},"detail":{"field":"k"},"color":{"field":"l","type":"nominal","scale":{"domain":["l","k","j","i","h","g","f","e","d","c","b","a"]},"legend":{"title":"Pe (eV)","legendX":286,"legendY":38,"labelExpr":"['','0','-0.005','-0.01','-0.015','-0.02','-0.025','-0.03','-0.035','-0.04','-0.045','-0.05'][indexof('lkjihgfedcba',datum.value)]"}}},
"layer":[{"data":{"values":[
{"x":1,"a0":-23,"d1":6,"e2":9,"d3":26,"c4":33,"b5":40,"c6":95,"d7":103,"e8":106,"f9":109,"g10":111,"h11":113,"i12":115,"j13":117,"k14":122},{"x":12,"a0":-23,"d1":6,"e2":10,"d3":25,"c4":33,"b5":68,"c6":98,"d7":103,"e8":106,"f9":109,"g10":111,"h11":113,"i12":115,"j13":117,"k14":128},{"x":25,"a0":-23,"d1":5,"e2":18,"d3":27,"c4":33,"b5":68,"c6":100,"d7":104,"e8":106,"f9":109,"g10":111,"h11":113,"i12":115,"j13":117,"k14":120},{"x":37,"a0":-23,"d1":5,"e2":12,"d3":25,"c4":33,"b5":58,"c6":96,"d7":103,"e8":106,"f9":109,"g10":111,"h11":113,"i12":115,"j13":117,"k14":118},{"x":50,"a0":-23,"d1":6,"e2":8,"d3":44,"c4":50,"b5":62,"c6":96,"d7":103,"e8":106,"f9":109,"g10":111,"h11":113,"i12":115,"j13":117,"k14":118},{"x":60,"a0":-23,"d1":3,"e2":6,"d3":50,"c4":56,"b5":65,"c6":98,"d7":104,"e8":106,"f9":109,"g10":111,"h11":113,"i12":115,"j13":117,"k14":118},{"x":67,"a0":-23,"d1":-2,"e2":2,"d3":52,"c4":60,"b5":72,"c6":100,"d7":105,"e8":107,"f9":110,"g10":112,"h11":114,"i12":116,"j13":118,"k14":119},{"x":75,"a0":-23,"d1":-7,"e2":-5,"d3":53,"c4":60,"b5":71,"c6":98,"d7":105,"e8":108,"f9":110,"g10":112,"h11":114,"i12":116,"j13":118,"k14":120},{"x":83,"a0":-23,"d1":-3,"e2":-1,"d3":51,"c4":59,"b5":71,"c6":96,"d7":104,"e8":107,"f9":110,"g10":112,"h11":114,"i12":116,"j13":118,"k14":119},{"x":90,"a0":-23,"d1":3,"e2":5,"d3":48,"c4":57,"b5":71,"c6":100,"d7":105,"e8":107,"f9":110,"g10":112,"h11":114,"i12":116,"j13":118,"k14":119},{"x":100,"a0":-23,"d1":5,"e2":9,"d3":44,"c4":53,"b5":73,"c6":98,"d7":103,"e8":106,"f9":109,"g10":111,"h11":113,"i12":115,"j13":117,"k14":118},{"x":112,"a0":-23,"d1":5,"e2":8,"d3":28,"c4":42,"b5":65,"c6":97,"d7":103,"e8":106,"f9":109,"g10":111,"h11":113,"i12":115,"j13":117,"k14":119},{"x":125,"a0":-23,"d1":5,"e2":8,"d3":27,"c4":42,"b5":52,"c6":98,"d7":103,"e8":106,"f9":109,"g10":111,"h11":113,"i12":115,"j13":117,"k14":118},{"x":137,"a0":-23,"d1":6,"e2":9,"d3":26,"c4":49,"b5":64,"c6":98,"d7":103,"e8":106,"f9":109,"g10":111,"h11":113,"i12":115,"j13":117,"k14":118},{"x":148,"a0":-23,"d1":7,"e2":9,"d3":26,"c4":33,"b5":48,"c6":97,"d7":103,"e8":106,"f9":109,"g10":111,"h11":113,"i12":116,"j13":118,"k14":126}]},
"transform":[{"fold":["a0","d1","e2","d3","c4","b5","c6","d7","e8","f9","g10","h11","i12","j13","k14"],"as":["k","z"]},{"calculate":"substring(datum.k,0,1)","as":"l"},{"calculate":"150","as":"t"}],"mark":{"type":"area","clip":true}},
{"data":{"values":[
{"k":1,"l":"f","x":35,"z":18,"t":18},{"k":1,"l":"f","x":40,"z":10,"t":35},{"k":1,"l":"f","x":47,"z":8,"t":42},{"k":1,"l":"f","x":60,"z":7,"t":47},{"k":1,"l":"f","x":67,"z":2,"t":48},{"k":1,"l":"f","x":75,"z":-2,"t":48},{"k":1,"l":"f","x":83,"z":2,"t":47},{"k":1,"l":"f","x":90,"z":7,"t":43},{"k":1,"l":"f","x":100,"z":12,"t":30},{"k":1,"l":"f","x":112,"z":14,"t":25},{"k":1,"l":"f","x":125,"z":15,"t":22},{"k":1,"l":"f","x":137,"z":17,"t":17},
{"k":2,"l":"g","x":42,"z":18,"t":18},{"k":2,"l":"g","x":47,"z":12,"t":36},{"k":2,"l":"g","x":60,"z":8,"t":43},{"k":2,"l":"g","x":67,"z":3,"t":44},{"k":2,"l":"g","x":75,"z":0,"t":45},{"k":2,"l":"g","x":83,"z":3,"t":43},{"k":2,"l":"g","x":90,"z":8,"t":37},{"k":2,"l":"g","x":97,"z":13,"t":28},{"k":2,"l":"g","x":102,"z":15,"t":15},
{"k":3,"l":"g","x":105,"z":17,"t":17},{"k":3,"l":"g","x":110,"z":12,"t":22},{"k":3,"l":"g","x":117,"z":17,"t":17},
{"k":4,"l":"h","x":47,"z":18,"t":18},{"k":4,"l":"h","x":52,"z":12,"t":30},{"k":4,"l":"h","x":60,"z":8,"t":37},{"k":4,"l":"h","x":67,"z":4,"t":40},{"k":4,"l":"h","x":75,"z":1,"t":41},{"k":4,"l":"h","x":83,"z":4,"t":38},{"k":4,"l":"h","x":90,"z":11,"t":32},{"k":4,"l":"h","x":97,"z":13,"t":13},
{"k":5,"l":"i","x":50,"z":17,"t":17},{"k":5,"l":"i","x":55,"z":12,"t":28},{"k":5,"l":"i","x":62,"z":8,"t":35},{"k":5,"l":"i","x":70,"z":4,"t":37},{"k":5,"l":"i","x":78,"z":3,"t":37},{"k":5,"l":"i","x":85,"z":7,"t":33},{"k":5,"l":"i","x":92,"z":16,"t":22},{"k":5,"l":"i","x":94,"z":17,"t":17},
{"k":6,"l":"j","x":53,"z":21,"t":21},{"k":6,"l":"j","x":60,"z":12,"t":32},{"k":6,"l":"j","x":67,"z":6,"t":34},{"k":6,"l":"j","x":75,"z":4,"t":35},{"k":6,"l":"j","x":82,"z":8,"t":30},{"k":6,"l":"j","x":87,"z":12,"t":22},{"k":6,"l":"j","x":90,"z":17,"t":20},
{"k":7,"l":"k","x":71,"z":18,"t":18},{"k":7,"l":"k","x":74,"z":14,"t":19},{"k":7,"l":"k","x":80,"z":11,"t":11},
{"k":8,"l":"k","x":82,"z":22,"t":22},{"k":8,"l":"k","x":84,"z":16,"t":24},{"k":8,"l":"k","x":86,"z":23,"t":23},
{"k":9,"l":"j","x":14,"z":130,"t":130},{"k":9,"l":"j","x":17,"z":125,"t":135},{"k":9,"l":"j","x":19,"z":129,"t":129},
{"k":10,"l":"j","x":118,"z":133,"t":133},{"k":10,"l":"j","x":121,"z":127,"t":136},{"k":10,"l":"j","x":126,"z":134,"t":134},
{"k":11,"l":"j","x":131,"z":130,"t":133},{"k":11,"l":"j","x":136,"z":122,"t":135},{"k":11,"l":"j","x":143,"z":128,"t":132},
{"k":12,"l":"l","x":86,"z":122,"t":122},{"k":12,"l":"l","x":87,"z":121,"t":124},{"k":12,"l":"l","x":88,"z":122,"t":122}]},"mark":{"type":"area","clip":true}}]},
{"width":283,"height":314,"title":"Total energy",
"encoding":{"x":{"field":"x","type":"quantitative","scale":{"domain":[1.5,148],"nice":false},"axis":{"zindex":1,"title":"Y (Å)","values":[6,12,18,24,30,36,42,48,54,60,66,72,78,84,90,96,102,108,114,120,126,132,138,144],"labelExpr":"datum.value%30?'':datum.label","tickSize":{"condition":{"test":"datum.value%30===0","value":-7},"value":-3}}},"y":{"field":"z","type":"quantitative","scale":{"domain":[-22,147.5],"nice":false},"axis":{"zindex":1,"title":"Z (Å)","values":[-18,-12,-6,0,6,12,18,24,30,36,42,48,54,60,66,72,78,84,90,96,102,108,114,120,126,132,138,144],"labelExpr":"datum.value%30?'':datum.label","tickSize":{"condition":{"test":"datum.value%30===0","value":-7},"value":-3}}},"y2":{"field":"t"},"detail":{"field":"k"},"color":{"field":"l","type":"nominal","scale":{"domain":["l","k","j","i","h","g","f","e","d","c","b","a"]},"legend":{"title":"Pe+Ke (eV)","legendX":287,"legendY":38,"labelExpr":"['','0','-0.005','-0.01','-0.015','-0.02','-0.025','-0.03','-0.035','-0.04','-0.045','-0.05'][indexof('lkjihgfedcba',datum.value)]"}}},
"layer":[{"data":{"values":[
{"x":1,"a0":-23,"d1":6,"g2":7,"h3":9,"g4":27,"f5":33,"e6":62,"f7":88,"g8":103,"h9":106,"i10":108,"j11":111,"k12":112,"l13":114},{"x":12,"a0":-23,"d1":3,"g2":5,"h3":9,"g4":27,"f5":38,"e6":72,"f7":96,"g8":103,"h9":106,"i10":108,"j11":111,"k12":112,"l13":114},{"x":25,"a0":-23,"d1":3,"g2":5,"h3":9,"g4":27,"f5":41,"e6":78,"f7":100,"g8":103,"h9":106,"i10":108,"j11":111,"k12":112,"l13":114},{"x":37,"a0":-23,"d1":3,"g2":5,"h3":9,"g4":30,"f5":45,"e6":72,"f7":93,"g8":103,"h9":105,"i10":107,"j11":110,"k12":111,"l13":113},{"x":50,"a0":-23,"d1":3,"g2":5,"h3":9,"g4":42,"f5":50,"e6":70,"f7":98,"g8":103,"h9":105,"i10":107,"j11":110,"k12":111,"l13":113},{"x":60,"a0":-23,"d1":3,"g2":5,"h3":8,"g4":46,"f5":53,"e6":79,"f7":98,"g8":103,"h9":106,"i10":108,"j11":111,"k12":112,"l13":114},{"x":67,"a0":-23,"d1":-3,"g2":-1,"h3":1,"g4":48,"f5":58,"e6":75,"f7":94,"g8":104,"h9":107,"i10":109,"j11":112,"k12":113,"l13":115},{"x":75,"a0":-23,"d1":-8,"g2":-7,"h3":-5,"g4":50,"f5":58,"e6":72,"f7":89,"g8":104,"h9":107,"i10":109,"j11":112,"k12":113,"l13":115},{"x":83,"a0":-23,"d1":-3,"g2":-1,"h3":1,"g4":47,"f5":62,"e6":72,"f7":95,"g8":103,"h9":106,"i10":108,"j11":111,"k12":112,"l13":114},{"x":90,"a0":-23,"d1":3,"g2":5,"h3":8,"g4":42,"f5":58,"e6":79,"f7":100,"g8":103,"h9":106,"i10":108,"j11":111,"k12":112,"l13":114},{"x":100,"a0":-23,"d1":3,"g2":5,"h3":9,"g4":37,"f5":52,"e6":75,"f7":100,"g8":103,"h9":106,"i10":108,"j11":111,"k12":112,"l13":114},{"x":112,"a0":-23,"d1":3,"g2":5,"h3":9,"g4":30,"f5":38,"e6":73,"f7":96,"g8":103,"h9":106,"i10":108,"j11":111,"k12":113,"l13":115},{"x":125,"a0":-23,"d1":3,"g2":5,"h3":9,"g4":30,"f5":38,"e6":70,"f7":99,"g8":103,"h9":106,"i10":108,"j11":111,"k12":112,"l13":114},{"x":137,"a0":-23,"d1":5,"g2":6,"h3":9,"g4":28,"f5":35,"e6":64,"f7":96,"g8":103,"h9":106,"i10":108,"j11":111,"k12":112,"l13":114},{"x":148,"a0":-23,"d1":6,"g2":7,"h3":9,"g4":22,"f5":30,"e6":70,"f7":99,"g8":104,"h9":107,"i10":109,"j11":112,"k12":114,"l13":117}]},
"transform":[{"fold":["a0","d1","g2","h3","g4","f5","e6","f7","g8","h9","i10","j11","k12","l13"],"as":["k","z"]},{"calculate":"substring(datum.k,0,1)","as":"l"},{"calculate":"150","as":"t"}],"mark":{"type":"area","clip":true}},
{"data":{"values":[
{"k":1,"l":"i","x":1,"z":10,"t":24},{"k":1,"l":"i","x":7,"z":11,"t":22},{"k":1,"l":"i","x":13,"z":16,"t":16},
{"k":2,"l":"i","x":31,"z":20,"t":20},{"k":2,"l":"i","x":37,"z":12,"t":32},{"k":2,"l":"i","x":45,"z":8,"t":43},{"k":2,"l":"i","x":52,"z":6,"t":46},{"k":2,"l":"i","x":60,"z":4,"t":48},{"k":2,"l":"i","x":67,"z":1,"t":50},{"k":2,"l":"i","x":75,"z":-3,"t":50},{"k":2,"l":"i","x":83,"z":1,"t":49},{"k":2,"l":"i","x":90,"z":5,"t":45},{"k":2,"l":"i","x":100,"z":9,"t":32},{"k":2,"l":"i","x":105,"z":10,"t":25},{"k":2,"l":"i","x":112,"z":10,"t":24},{"k":2,"l":"i","x":125,"z":10,"t":21},{"k":2,"l":"i","x":137,"z":10,"t":20},{"k":2,"l":"i","x":148,"z":10,"t":20},
{"k":3,"l":"j","x":38,"z":17,"t":17},{"k":3,"l":"j","x":42,"z":12,"t":34},{"k":3,"l":"j","x":50,"z":9,"t":42},{"k":3,"l":"j","x":60,"z":6,"t":45},{"k":3,"l":"j","x":67,"z":2,"t":46},{"k":3,"l":"j","x":75,"z":-1,"t":47},{"k":3,"l":"j","x":83,"z":2,"t":44},{"k":3,"l":"j","x":90,"z":7,"t":38},{"k":3,"l":"j","x":98,"z":11,"t":28},{"k":3,"l":"j","x":105,"z":13,"t":22},{"k":3,"l":"j","x":115,"z":12,"t":24},{"k":3,"l":"j","x":125,"z":11,"t":20},{"k":3,"l":"j","x":130,"z":12,"t":12},
{"k":4,"l":"j","x":131,"z":18,"t":18},{"k":4,"l":"j","x":135,"z":14,"t":21},{"k":4,"l":"j","x":140,"z":17,"t":17},
{"k":5,"l":"k","x":41,"z":20,"t":20},{"k":5,"l":"k","x":44,"z":12,"t":30},{"k":5,"l":"k","x":50,"z":11,"t":37},{"k":5,"l":"k","x":60,"z":8,"t":42},{"k":5,"l":"k","x":67,"z":3,"t":43},{"k":5,"l":"k","x":75,"z":0,"t":45},{"k":5,"l":"k","x":83,"z":4,"t":38},{"k":5,"l":"k","x":90,"z":10,"t":30},{"k":5,"l":"k","x":98,"z":12,"t":23},{"k":5,"l":"k","x":105,"z":12,"t":15},{"k":5,"l":"k","x":110,"z":17,"t":17},
{"k":6,"l":"k","x":109,"z":18,"t":18},{"k":6,"l":"k","x":113,"z":16,"t":20},{"k":6,"l":"k","x":120,"z":16,"t":18},{"k":6,"l":"k","x":124,"z":12,"t":12},
{"k":7,"l":"l","x":48,"z":22,"t":22},{"k":7,"l":"l","x":50,"z":17,"t":26},{"k":7,"l":"l","x":55,"z":13,"t":32},{"k":7,"l":"l","x":60,"z":9,"t":40},{"k":7,"l":"l","x":67,"z":3,"t":41},{"k":7,"l":"l","x":75,"z":1,"t":43},{"k":7,"l":"l","x":83,"z":6,"t":35},{"k":7,"l":"l","x":90,"z":10,"t":30},{"k":7,"l":"l","x":95,"z":18,"t":26},{"k":7,"l":"l","x":98,"z":18,"t":18},
{"k":8,"l":"e","x":118,"z":57,"t":57},{"k":8,"l":"e","x":122,"z":53,"t":60},{"k":8,"l":"e","x":127,"z":57,"t":57},
{"k":9,"l":"f","x":99,"z":87,"t":87},{"k":9,"l":"f","x":103,"z":83,"t":91},{"k":9,"l":"f","x":108,"z":87,"t":87}]},"mark":{"type":"area","clip":true}}]}
]},
{"bounds":"flush","spacing":129,"resolve":{"scale":{"color":"independent"},"legend":{"color":"independent"}},"hconcat":[
{"width":285,"height":314,"title":"Kinetic energy",
"encoding":{"x":{"field":"x","type":"quantitative","scale":{"domain":[1.5,148],"nice":false},"axis":{"zindex":1,"title":"Y (Å)","values":[6,12,18,24,30,36,42,48,54,60,66,72,78,84,90,96,102,108,114,120,126,132,138,144],"labelExpr":"datum.value%30?'':datum.label","tickSize":{"condition":{"test":"datum.value%30===0","value":-7},"value":-3}}},"y":{"field":"z","type":"quantitative","scale":{"domain":[-22,147.5],"nice":false},"axis":{"zindex":1,"title":"Z (Å)","values":[-18,-12,-6,0,6,12,18,24,30,36,42,48,54,60,66,72,78,84,90,96,102,108,114,120,126,132,138,144],"labelExpr":"datum.value%30?'':datum.label","tickSize":{"condition":{"test":"datum.value%30===0","value":-7},"value":-3}}},"y2":{"field":"t"},"detail":{"field":"k"},"color":{"field":"l","type":"nominal","scale":{"domain":["l","k","j","i","h","g","f","e","d","c","b","a"]},"legend":{"title":"Ke (eV)","legendX":288,"legendY":38,"labelExpr":"['','0.025','0.0225','0.02','0.0175','0.015','0.0125','0.01','0.0075','0.005','0.0025','0'][indexof('lkjihgfedcba',datum.value)]"}}},
"layer":[{"data":{"values":[
{"x":1,"l0":-23,"k1":-2,"j2":-1,"i3":1,"h4":15},{"x":12,"l0":-23,"k1":-2,"j2":-1,"i3":1,"h4":15},{"x":25,"l0":-23,"k1":-2,"j2":-1,"i3":1,"h4":10},{"x":37,"l0":-23,"k1":-2,"j2":-1,"i3":2,"h4":20},{"x":50,"l0":-23,"k1":-2,"j2":-1,"i3":1,"h4":20},{"x":60,"l0":-23,"k1":-2,"j2":-1,"i3":1,"h4":15},{"x":67,"l0":-23,"k1":-8,"j2":-5,"i3":-3,"h4":20},{"x":75,"l0":-23,"k1":-14,"j2":-9,"i3":-7,"h4":30},{"x":83,"l0":-23,"k1":-6,"j2":-4,"i3":-2,"h4":35},{"x":90,"l0":-23,"k1":-2,"j2":-1,"i3":1,"h4":35},{"x":100,"l0":-23,"k1":-2,"j2":-1,"i3":1,"h4":30},{"x":112,"l0":-23,"k1":-1,"j2":1,"i3":3,"h4":13},{"x":125,"l0":-23,"k1":-2,"j2":-1,"i3":2,"h4":13},{"x":137,"l0":-23,"k1":-2,"j2":-1,"i3":1,"h4":13},{"x":148,"l0":-23,"k1":-2,"j2":-1,"i3":1,"h4":13}]},
"transform":[{"fold":["l0","k1","j2","i3","h4"],"as":["k","z"]},{"calculate":"substring(datum.k,0,1)","as":"l"},{"calculate":"150","as":"t"}],"mark":{"type":"area","clip":true}},
{"data":{"values":[
{"k":1,"l":"g","x":2,"z":135,"t":148},{"k":1,"l":"g","x":10,"z":135,"t":148},{"k":1,"l":"g","x":15,"z":142,"t":148},
{"k":2,"l":"g","x":22,"z":143,"t":148},{"k":2,"l":"g","x":35,"z":138,"t":148},{"k":2,"l":"g","x":50,"z":142,"t":148},
{"k":3,"l":"g","x":10,"z":132,"t":132},{"k":3,"l":"g","x":18,"z":128,"t":137},{"k":3,"l":"g","x":27,"z":133,"t":133},
{"k":4,"l":"g","x":30,"z":128,"t":128},{"k":4,"l":"g","x":33,"z":122,"t":135},{"k":4,"l":"g","x":42,"z":130,"t":137},{"k":4,"l":"g","x":47,"z":134,"t":134},
{"k":5,"l":"g","x":52,"z":143,"t":148},{"k":5,"l":"g","x":58,"z":136,"t":148},{"k":5,"l":"g","x":62,"z":143,"t":148},
{"k":6,"l":"g","x":68,"z":143,"t":148},{"k":6,"l":"g","x":78,"z":136,"t":146},{"k":6,"l":"g","x":90,"z":138,"t":148},{"k":6,"l":"g","x":92,"z":143,"t":143},
{"k":7,"l":"g","x":108,"z":148,"t":148},{"k":7,"l":"g","x":118,"z":132,"t":148},{"k":7,"l":"g","x":130,"z":125,"t":148},{"k":7,"l":"g","x":140,"z":122,"t":148},{"k":7,"l":"g","x":148,"z":122,"t":148},
{"k":8,"l":"g","x":100,"z":127,"t":127},{"k":8,"l":"g","x":107,"z":125,"t":138},{"k":8,"l":"g","x":109,"z":130,"t":130},
{"k":9,"l":"g","x":76,"z":125,"t":125},{"k":9,"l":"g","x":80,"z":114,"t":127},{"k":9,"l":"g","x":83,"z":115,"t":118},
{"k":10,"l":"g","x":60,"z":113,"t":113},{"k":10,"l":"g","x":65,"z":110,"t":117},{"k":10,"l":"g","x":71,"z":112,"t":112},
{"k":11,"l":"g","x":73,"z":111,"t":111},{"k":11,"l":"g","x":76,"z":106,"t":113},{"k":11,"l":"g","x":80,"z":111,"t":111},
{"k":12,"l":"g","x":119,"z":112,"t":112},{"k":12,"l":"g","x":122,"z":109,"t":115},{"k":12,"l":"g","x":125,"z":112,"t":112},
{"k":13,"l":"i","x":28,"z":10,"t":14},{"k":13,"l":"i","x":50,"z":10,"t":33},{"k":13,"l":"i","x":72,"z":7,"t":45},{"k":13,"l":"i","x":95,"z":8,"t":50},{"k":13,"l":"i","x":110,"z":5,"t":30},{"k":13,"l":"i","x":120,"z":10,"t":14},
{"k":14,"l":"i","x":30,"z":68,"t":68},{"k":14,"l":"i","x":36,"z":62,"t":75},{"k":14,"l":"i","x":41,"z":68,"t":72},
{"k":15,"l":"i","x":62,"z":72,"t":72},{"k":15,"l":"i","x":68,"z":65,"t":85},{"k":15,"l":"i","x":74,"z":78,"t":85},
{"k":16,"l":"i","x":85,"z":72,"t":87},{"k":16,"l":"i","x":93,"z":76,"t":82},{"k":16,"l":"i","x":102,"z":75,"t":78},
{"k":17,"l":"i","x":76,"z":72,"t":74},{"k":17,"l":"i","x":88,"z":55,"t":68},{"k":17,"l":"i","x":96,"z":50,"t":62},{"k":17,"l":"i","x":108,"z":52,"t":58},
{"k":18,"l":"i","x":45,"z":50,"t":56},{"k":18,"l":"i","x":52,"z":38,"t":50},{"k":18,"l":"i","x":62,"z":25,"t":38},
{"k":19,"l":"i","x":55,"z":58,"t":65},{"k":19,"l":"i","x":65,"z":50,"t":67},{"k":19,"l":"i","x":73,"z":55,"t":58},
{"k":20,"l":"i","x":13,"z":55,"t":55},{"k":20,"l":"i","x":15,"z":50,"t":60},{"k":20,"l":"i","x":18,"z":55,"t":55},
{"k":21,"l":"i","x":127,"z":27,"t":27},{"k":21,"l":"i","x":133,"z":22,"t":36},{"k":21,"l":"i","x":137,"z":28,"t":28},
{"k":22,"l":"i","x":40,"z":78,"t":78},{"k":22,"l":"i","x":42,"z":73,"t":85},{"k":22,"l":"i","x":45,"z":78,"t":78},
{"k":30,"l":"g","x":34,"z":66,"t":66},{"k":30,"l":"g","x":45,"z":60,"t":75},{"k":30,"l":"g","x":55,"z":62,"t":80},{"k":30,"l":"g","x":65,"z":68,"t":78},{"k":30,"l":"g","x":70,"z":72,"t":72},
{"k":31,"l":"g","x":18,"z":45,"t":58},{"k":31,"l":"g","x":30,"z":28,"t":50},{"k":31,"l":"g","x":40,"z":30,"t":50},{"k":31,"l":"g","x":47,"z":35,"t":52},
{"k":32,"l":"g","x":104,"z":25,"t":35},{"k":32,"l":"g","x":112,"z":20,"t":50},{"k":32,"l":"g","x":122,"z":20,"t":46},{"k":32,"l":"g","x":128,"z":22,"t":35},
{"k":33,"l":"g","x":58,"z":42,"t":42},{"k":33,"l":"g","x":65,"z":37,"t":47},{"k":33,"l":"g","x":72,"z":40,"t":40},
{"k":34,"l":"g","x":75,"z":12,"t":12},{"k":34,"l":"g","x":80,"z":7,"t":17},{"k":34,"l":"g","x":84,"z":12,"t":12},
{"k":35,"l":"g","x":18,"z":12,"t":22},{"k":35,"l":"g","x":24,"z":8,"t":20},{"k":35,"l":"g","x":30,"z":14,"t":14},
{"k":36,"l":"g","x":138,"z":22,"t":22},{"k":36,"l":"g","x":143,"z":17,"t":26},{"k":36,"l":"g","x":148,"z":17,"t":24},
{"k":37,"l":"e","x":48,"z":58,"t":58},{"k":37,"l":"e","x":52,"z":52,"t":62},{"k":37,"l":"e","x":56,"z":56,"t":56},
{"k":38,"l":"e","x":34,"z":37,"t":37},{"k":38,"l":"e","x":37,"z":33,"t":42},{"k":38,"l":"e","x":40,"z":37,"t":37},
{"k":39,"l":"d","x":36,"z":38,"t":38},{"k":39,"l":"d","x":37,"z":36,"t":40},{"k":39,"l":"d","x":38,"z":38,"t":38},
{"k":40,"l":"e","x":113,"z":38,"t":38},{"k":40,"l":"e","x":117,"z":33,"t":44},{"k":40,"l":"e","x":120,"z":38,"t":38},
{"k":41,"l":"j","x":64,"z":76,"t":76},{"k":41,"l":"j","x":68,"z":70,"t":83},{"k":41,"l":"j","x":72,"z":83,"t":83},
{"k":42,"l":"j","x":44,"z":50,"t":50},{"k":42,"l":"j","x":47,"z":45,"t":53},{"k":42,"l":"j","x":54,"z":38,"t":40},
{"k":43,"l":"k","x":46,"z":48,"t":50},{"k":43,"l":"k","x":48,"z":44,"t":52},{"k":43,"l":"k","x":53,"z":40,"t":41},
{"k":44,"l":"j","x":58,"z":63,"t":63},{"k":44,"l":"j","x":65,"z":55,"t":63},{"k":44,"l":"j","x":71,"z":57,"t":57},
{"k":45,"l":"k","x":64,"z":60,"t":60},{"k":45,"l":"k","x":68,"z":56,"t":59},{"k":45,"l":"k","x":71,"z":57,"t":57},
{"k":46,"l":"j","x":78,"z":72,"t":72},{"k":46,"l":"j","x":88,"z":58,"t":66},{"k":46,"l":"j","x":92,"z":54,"t":65},{"k":46,"l":"j","x":94,"z":58,"t":60},
{"k":47,"l":"k","x":85,"z":63,"t":63},{"k":47,"l":"k","x":90,"z":57,"t":63},{"k":47,"l":"k","x":93,"z":57,"t":60},
{"k":48,"l":"l","x":90,"z":58,"t":58},{"k":48,"l":"l","x":91,"z":56,"t":60},{"k":48,"l":"l","x":93,"z":58,"t":58},
{"k":49,"l":"j","x":96,"z":44,"t":44},{"k":49,"l":"j","x":103,"z":35,"t":50},{"k":49,"l":"j","x":108,"z":36,"t":45},
{"k":50,"l":"k","x":98,"z":43,"t":43},{"k":50,"l":"k","x":102,"z":39,"t":47},{"k":50,"l":"k","x":105,"z":43,"t":43},
{"k":51,"l":"l","x":100,"z":43,"t":43},{"k":51,"l":"l","x":102,"z":41,"t":45},{"k":51,"l":"l","x":104,"z":43,"t":43},
{"k":52,"l":"j","x":77,"z":37,"t":37},{"k":52,"l":"j","x":82,"z":28,"t":42},{"k":52,"l":"j","x":87,"z":33,"t":33},
{"k":53,"l":"k","x":79,"z":37,"t":37},{"k":53,"l":"k","x":82,"z":31,"t":39},{"k":53,"l":"k","x":84,"z":33,"t":33},
{"k":54,"l":"j","x":57,"z":22,"t":22},{"k":54,"l":"j","x":62,"z":14,"t":26},{"k":54,"l":"j","x":74,"z":10,"t":12},
{"k":55,"l":"k","x":60,"z":22,"t":22},{"k":55,"l":"k","x":62,"z":20,"t":25},{"k":55,"l":"k","x":64,"z":22,"t":22},
{"k":57,"l":"j","x":53,"z":8,"t":8},{"k":57,"l":"j","x":57,"z":5,"t":11},{"k":57,"l":"j","x":61,"z":8,"t":8},
{"k":58,"l":"k","x":55,"z":8,"t":8},{"k":58,"l":"k","x":57,"z":6,"t":10},{"k":58,"l":"k","x":59,"z":8,"t":8},
{"k":59,"l":"k","x":100,"z":27,"t":27},{"k":59,"l":"k","x":102,"z":23,"t":31},{"k":59,"l":"k","x":104,"z":27,"t":27},
{"k":60,"l":"j","x":86,"z":12,"t":12},{"k":60,"l":"j","x":91,"z":7,"t":15},{"k":60,"l":"j","x":96,"z":12,"t":12},
{"k":61,"l":"j","x":33,"z":68,"t":68},{"k":61,"l":"j","x":36,"z":66,"t":74},{"k":61,"l":"j","x":38,"z":68,"t":68},
{"k":62,"l":"j","x":126,"z":28,"t":28},{"k":62,"l":"j","x":132,"z":25,"t":33},{"k":62,"l":"j","x":134,"z":28,"t":28},
{"k":63,"l":"k","x":19,"z":-13,"t":-13},{"k":63,"l":"k","x":22,"z":-16,"t":-11},{"k":63,"l":"k","x":25,"z":-13,"t":-13},
{"k":64,"l":"k","x":136,"z":-8,"t":-6},{"k":64,"l":"k","x":142,"z":-14,"t":-7},{"k":64,"l":"k","x":148,"z":-18,"t":-10}]},"mark":{"type":"area","clip":true}}]},
{"width":283,"height":314,"title":"Potential energy",
"encoding":{"x":{"field":"x","type":"quantitative","scale":{"domain":[1.5,148],"nice":false},"axis":{"zindex":1,"title":"Y (Å)","values":[6,12,18,24,30,36,42,48,54,60,66,72,78,84,90,96,102,108,114,120,126,132,138,144],"labelExpr":"datum.value%30?'':datum.label","tickSize":{"condition":{"test":"datum.value%30===0","value":-7},"value":-3}}},"y":{"field":"z","type":"quantitative","scale":{"domain":[-22,147.5],"nice":false},"axis":{"zindex":1,"title":"Z (Å)","values":[-18,-12,-6,0,6,12,18,24,30,36,42,48,54,60,66,72,78,84,90,96,102,108,114,120,126,132,138,144],"labelExpr":"datum.value%30?'':datum.label","tickSize":{"condition":{"test":"datum.value%30===0","value":-7},"value":-3}}},"y2":{"field":"t"},"detail":{"field":"k"},"color":{"field":"l","type":"nominal","scale":{"domain":["l","k","j","i","h","g","f","e","d","c","b","a"]},"legend":{"title":"Pe (eV)","legendX":286,"legendY":38,"labelExpr":"['','0','-0.005','-0.01','-0.015','-0.02','-0.025','-0.03','-0.035','-0.04','-0.045','-0.05'][indexof('lkjihgfedcba',datum.value)]"}}},
"layer":[{"data":{"values":[
{"x":1,"a0":-23,"d1":6,"e2":8,"d3":33,"c4":60,"b5":90,"c6":133,"d7":137,"e8":139,"f9":141,"g10":142,"h11":144,"i12":146},{"x":12,"a0":-23,"d1":5,"e2":7,"d3":38,"c4":65,"b5":100,"c6":131,"d7":135,"e8":137,"f9":139,"g10":141,"h11":143,"i12":146},{"x":25,"a0":-23,"d1":4,"e2":6,"d3":60,"c4":75,"b5":90,"c6":131,"d7":136,"e8":138,"f9":140,"g10":142,"h11":143,"i12":145},{"x":37,"a0":-23,"d1":4,"e2":6,"d3":70,"c4":82,"b5":92,"c6":133,"d7":137,"e8":139,"f9":141,"g10":142,"h11":144,"i12":146},{"x":50,"a0":-23,"d1":4,"e2":6,"d3":80,"c4":90,"b5":102,"c6":133,"d7":139,"e8":140,"f9":142,"g10":143,"h11":144,"i12":146},{"x":60,"a0":-23,"d1":3,"e2":5,"d3":88,"c4":93,"b5":105,"c6":131,"d7":137,"e8":139,"f9":141,"g10":142,"h11":144,"i12":146},{"x":67,"a0":-23,"d1":-3,"e2":-1,"d3":92,"c4":95,"b5":105,"c6":131,"d7":136,"e8":138,"f9":140,"g10":142,"h11":144,"i12":146},{"x":75,"a0":-23,"d1":-8,"e2":-6,"d3":92,"c4":95,"b5":103,"c6":128,"d7":135,"e8":137,"f9":139,"g10":141,"h11":143,"i12":146},{"x":83,"a0":-23,"d1":-3,"e2":-1,"d3":90,"c4":93,"b5":100,"c6":125,"d7":135,"e8":137,"f9":139,"g10":141,"h11":143,"i12":146},{"x":90,"a0":-23,"d1":3,"e2":5,"d3":88,"c4":92,"b5":100,"c6":127,"d7":136,"e8":138,"f9":140,"g10":142,"h11":143,"i12":145},{"x":100,"a0":-23,"d1":4,"e2":6,"d3":85,"c4":90,"b5":98,"c6":135,"d7":139,"e8":141,"f9":142,"g10":144,"h11":145,"i12":147},{"x":112,"a0":-23,"d1":4,"e2":6,"d3":66,"c4":84,"b5":95,"c6":136,"d7":140,"e8":142,"f9":143,"g10":145,"h11":146,"i12":148},{"x":125,"a0":-23,"d1":4,"e2":6,"d3":45,"c4":66,"b5":80,"c6":136,"d7":140,"e8":142,"f9":143,"g10":145,"h11":146,"i12":148},{"x":137,"a0":-23,"d1":5,"e2":7,"d3":37,"c4":50,"b5":72,"c6":135,"d7":139,"e8":141,"f9":142,"g10":144,"h11":145,"i12":147},{"x":148,"a0":-23,"d1":6,"e2":8,"d3":27,"c4":38,"b5":90,"c6":133,"d7":138,"e8":140,"f9":141,"g10":143,"h11":145,"i12":147}]},
"transform":[{"fold":["a0","d1","e2","d3","c4","b5","c6","d7","e8","f9","g10","h11","i12"],"as":["k","z"]},{"calculate":"substring(datum.k,0,1)","as":"l"},{"calculate":"150","as":"t"}],"mark":{"type":"area","clip":true}},
{"data":{"values":[
{"k":1,"l":"f","x":13,"z":17,"t":17},{"k":1,"l":"f","x":18,"z":9,"t":35},{"k":1,"l":"f","x":25,"z":7,"t":50},{"k":1,"l":"f","x":37,"z":6,"t":73},{"k":1,"l":"f","x":50,"z":5,"t":85},{"k":1,"l":"f","x":60,"z":4,"t":90},{"k":1,"l":"f","x":67,"z":-1,"t":91},{"k":1,"l":"f","x":75,"z":-5,"t":90},{"k":1,"l":"f","x":83,"z":-1,"t":89},{"k":1,"l":"f","x":90,"z":4,"t":85},{"k":1,"l":"f","x":100,"z":6,"t":82},{"k":1,"l":"f","x":112,"z":6,"t":62},{"k":1,"l":"f","x":125,"z":6,"t":48},{"k":1,"l":"f","x":137,"z":7,"t":33},{"k":1,"l":"f","x":142,"z":18,"t":18},
{"k":2,"l":"g","x":15,"z":18,"t":18},{"k":2,"l":"g","x":20,"z":10,"t":32},{"k":2,"l":"g","x":25,"z":8,"t":47},{"k":2,"l":"g","x":37,"z":7,"t":70},{"k":2,"l":"g","x":50,"z":6,"t":82},{"k":2,"l":"g","x":60,"z":4,"t":86},{"k":2,"l":"g","x":67,"z":-1,"t":87},{"k":2,"l":"g","x":75,"z":-6,"t":87},{"k":2,"l":"g","x":83,"z":-1,"t":85},{"k":2,"l":"g","x":90,"z":5,"t":82},{"k":2,"l":"g","x":100,"z":6,"t":76},{"k":2,"l":"g","x":112,"z":7,"t":58},{"k":2,"l":"g","x":125,"z":7,"t":45},{"k":2,"l":"g","x":137,"z":9,"t":30},{"k":2,"l":"g","x":140,"z":18,"t":18},
{"k":3,"l":"h","x":17,"z":17,"t":17},{"k":3,"l":"h","x":22,"z":11,"t":32},{"k":3,"l":"h","x":28,"z":10,"t":52},{"k":3,"l":"h","x":37,"z":9,"t":67},{"k":3,"l":"h","x":50,"z":7,"t":78},{"k":3,"l":"h","x":60,"z":5,"t":83},{"k":3,"l":"h","x":67,"z":0,"t":84},{"k":3,"l":"h","x":75,"z":-5,"t":84},{"k":3,"l":"h","x":83,"z":0,"t":83},{"k":3,"l":"h","x":90,"z":5,"t":78},{"k":3,"l":"h","x":100,"z":7,"t":70},{"k":3,"l":"h","x":112,"z":8,"t":53},{"k":3,"l":"h","x":125,"z":8,"t":41},{"k":3,"l":"h","x":135,"z":11,"t":28},{"k":3,"l":"h","x":138,"z":18,"t":18},
{"k":4,"l":"i","x":19,"z":18,"t":18},{"k":4,"l":"i","x":25,"z":12,"t":40},{"k":4,"l":"i","x":30,"z":10,"t":50},{"k":4,"l":"i","x":37,"z":10,"t":64},{"k":4,"l":"i","x":50,"z":8,"t":75},{"k":4,"l":"i","x":60,"z":6,"t":80},{"k":4,"l":"i","x":67,"z":0,"t":81},{"k":4,"l":"i","x":75,"z":-4,"t":81},{"k":4,"l":"i","x":83,"z":0,"t":79},{"k":4,"l":"i","x":90,"z":6,"t":74},{"k":4,"l":"i","x":100,"z":9,"t":65},{"k":4,"l":"i","x":112,"z":10,"t":50},{"k":4,"l":"i","x":125,"z":10,"t":38},{"k":4,"l":"i","x":133,"z":14,"t":28},{"k":4,"l":"i","x":136,"z":20,"t":20},
{"k":5,"l":"j","x":24,"z":17,"t":17},{"k":5,"l":"j","x":26,"z":15,"t":35},{"k":5,"l":"j","x":33,"z":17,"t":55},{"k":5,"l":"j","x":37,"z":12,"t":61},{"k":5,"l":"j","x":50,"z":10,"t":72},{"k":5,"l":"j","x":60,"z":7,"t":78},{"k":5,"l":"j","x":67,"z":1,"t":79},{"k":5,"l":"j","x":75,"z":-3,"t":79},{"k":5,"l":"j","x":83,"z":1,"t":76},{"k":5,"l":"j","x":90,"z":8,"t":70},{"k":5,"l":"j","x":100,"z":11,"t":62},{"k":5,"l":"j","x":112,"z":13,"t":48},{"k":5,"l":"j","x":125,"z":13,"t":35},{"k":5,"l":"j","x":132,"z":17,"t":28},{"k":5,"l":"j","x":134,"z":22,"t":22},
{"k":6,"l":"k","x":37,"z":47,"t":47},{"k":6,"l":"k","x":45,"z":35,"t":62},{"k":6,"l":"k","x":53,"z":22,"t":60},{"k":6,"l":"k","x":55,"z":19,"t":68},{"k":6,"l":"k","x":62,"z":20,"t":60},{"k":6,"l":"k","x":70,"z":22,"t":76},{"k":6,"l":"k","x":80,"z":35,"t":72},{"k":6,"l":"k","x":90,"z":30,"t":65},{"k":6,"l":"k","x":100,"z":25,"t":52},{"k":6,"l":"k","x":112,"z":25,"t":45},{"k":6,"l":"k","x":118,"z":30,"t":30},
{"k":7,"l":"j","x":33,"z":38,"t":38},{"k":7,"l":"j","x":40,"z":27,"t":38},{"k":7,"l":"j","x":50,"z":30,"t":34},{"k":7,"l":"j","x":52,"z":30,"t":30},
{"k":8,"l":"k","x":32,"z":38,"t":38},{"k":8,"l":"k","x":37,"z":33,"t":38},{"k":8,"l":"k","x":42,"z":32,"t":32},
{"k":9,"l":"j","x":60,"z":42,"t":42},{"k":9,"l":"j","x":62,"z":40,"t":45},{"k":9,"l":"j","x":64,"z":42,"t":42},
{"k":10,"l":"j","x":76,"z":67,"t":67},{"k":10,"l":"j","x":79,"z":62,"t":71},{"k":10,"l":"j","x":85,"z":67,"t":67},
{"k":11,"l":"j","x":81,"z":58,"t":58},{"k":11,"l":"j","x":82,"z":56,"t":60},{"k":11,"l":"j","x":83,"z":58,"t":58},
{"k":12,"l":"j","x":66,"z":52,"t":52},{"k":12,"l":"j","x":76,"z":42,"t":44},{"k":12,"l":"j","x":70,"z":33,"t":42},{"k":12,"l":"j","x":85,"z":28,"t":30},
{"k":13,"l":"i","x":114,"z":22,"t":22},{"k":13,"l":"i","x":117,"z":19,"t":25},{"k":13,"l":"i","x":121,"z":22,"t":22},
{"k":14,"l":"k","x":65,"z":13,"t":18},{"k":14,"l":"k","x":70,"z":12,"t":14},{"k":14,"l":"k","x":77,"z":12,"t":13},
{"k":15,"l":"c","x":132,"z":110,"t":110},{"k":15,"l":"c","x":135,"z":106,"t":113},{"k":15,"l":"c","x":140,"z":106,"t":112},
{"k":16,"l":"c","x":22,"z":127,"t":127},{"k":16,"l":"c","x":27,"z":121,"t":125},{"k":16,"l":"c","x":30,"z":123,"t":123},
{"k":17,"l":"b","x":5,"z":72,"t":72},{"k":17,"l":"b","x":7,"z":71,"t":73},{"k":17,"l":"b","x":9,"z":72,"t":72},
{"k":18,"l":"b","x":15,"z":77,"t":77},{"k":18,"l":"b","x":19,"z":75,"t":78},{"k":18,"l":"b","x":24,"z":78,"t":78}]},"mark":{"type":"area","clip":true}}]},
{"width":283,"height":314,"title":"Total energy",
"encoding":{"x":{"field":"x","type":"quantitative","scale":{"domain":[1.5,148],"nice":false},"axis":{"zindex":1,"title":"Y (Å)","values":[6,12,18,24,30,36,42,48,54,60,66,72,78,84,90,96,102,108,114,120,126,132,138,144],"labelExpr":"datum.value%30?'':datum.label","tickSize":{"condition":{"test":"datum.value%30===0","value":-7},"value":-3}}},"y":{"field":"z","type":"quantitative","scale":{"domain":[-22,147.5],"nice":false},"axis":{"zindex":1,"title":"Z (Å)","values":[-18,-12,-6,0,6,12,18,24,30,36,42,48,54,60,66,72,78,84,90,96,102,108,114,120,126,132,138,144],"labelExpr":"datum.value%30?'':datum.label","tickSize":{"condition":{"test":"datum.value%30===0","value":-7},"value":-3}}},"y2":{"field":"t"},"detail":{"field":"k"},"color":{"field":"l","type":"nominal","scale":{"domain":["l","k","j","i","h","g","f","e","d","c","b","a"]},"legend":{"title":"Pe+Ke (eV)","legendX":287,"legendY":38,"labelExpr":"['','0','-0.005','-0.01','-0.015','-0.02','-0.025','-0.03','-0.035','-0.04','-0.045','-0.05'][indexof('lkjihgfedcba',datum.value)]"}}},
"layer":[{"data":{"values":[
{"x":1,"a0":-23,"d1":5,"g2":6,"h3":8,"g4":35,"f5":63,"e6":108,"f7":133,"g8":138,"h9":140,"i10":141,"j11":143,"k12":145,"l13":147},{"x":12,"a0":-23,"d1":3,"g2":5,"h3":8,"g4":50,"f5":66,"e6":114,"f7":128,"g8":136,"h9":138,"i10":139,"j11":141,"k12":142,"l13":143},{"x":25,"a0":-23,"d1":3,"g2":5,"h3":8,"g4":62,"f5":73,"e6":106,"f7":124,"g8":137,"h9":138,"i10":139,"j11":141,"k12":142,"l13":143},{"x":37,"a0":-23,"d1":3,"g2":5,"h3":8,"g4":85,"f5":88,"e6":112,"f7":129,"g8":138,"h9":140,"i10":141,"j11":143,"k12":144,"l13":145},{"x":50,"a0":-23,"d1":3,"g2":5,"h3":8,"g4":92,"f5":93,"e6":108,"f7":132,"g8":139,"h9":141,"i10":142,"j11":144,"k12":146,"l13":147},{"x":60,"a0":-23,"d1":3,"g2":5,"h3":7,"g4":94,"f5":95,"e6":108,"f7":133,"g8":138,"h9":140,"i10":141,"j11":143,"k12":145,"l13":147},{"x":67,"a0":-23,"d1":-2,"g2":-1,"h3":1,"g4":96,"f5":97,"e6":109,"f7":133,"g8":139,"h9":141,"i10":143,"j11":145,"k12":146,"l13":147},{"x":75,"a0":-23,"d1":-8,"g2":-7,"h3":-6,"g4":95,"f5":96,"e6":105,"f7":130,"g8":136,"h9":138,"i10":140,"j11":142,"k12":144,"l13":145},{"x":83,"a0":-23,"d1":-3,"g2":-2,"h3":0,"g4":94,"f5":95,"e6":103,"f7":125,"g8":135,"h9":137,"i10":139,"j11":141,"k12":143,"l13":145},{"x":90,"a0":-23,"d1":3,"g2":5,"h3":7,"g4":90,"f5":92,"e6":107,"f7":124,"g8":138,"h9":140,"i10":142,"j11":144,"k12":146,"l13":148},{"x":100,"a0":-23,"d1":3,"g2":5,"h3":8,"g4":84,"f5":90,"e6":110,"f7":130,"g8":141,"h9":143,"i10":145,"j11":147,"k12":148,"l13":149},{"x":112,"a0":-23,"d1":3,"g2":5,"h3":8,"g4":73,"f5":87,"e6":105,"f7":137,"g8":142,"h9":144,"i10":146,"j11":148,"k12":149,"l13":150},{"x":125,"a0":-23,"d1":3,"g2":5,"h3":8,"g4":50,"f5":72,"e6":105,"f7":137,"g8":142,"h9":144,"i10":146,"j11":148,"k12":149,"l13":150},{"x":137,"a0":-23,"d1":3,"g2":5,"h3":8,"g4":43,"f5":60,"e6":118,"f7":136,"g8":141,"h9":143,"i10":145,"j11":147,"k12":148,"l13":149},{"x":148,"a0":-23,"d1":5,"g2":6,"h3":8,"g4":40,"f5":44,"e6":112,"f7":134,"g8":139,"h9":141,"i10":143,"j11":145,"k12":146,"l13":147}]},
"transform":[{"fold":["a0","d1","g2","h3","g4","f5","e6","f7","g8","h9","i10","j11","k12","l13"],"as":["k","z"]},{"calculate":"substring(datum.k,0,1)","as":"l"},{"calculate":"150","as":"t"}],"mark":{"type":"area","clip":true}},
{"data":{"values":[
{"k":1,"l":"i","x":1,"z":11,"t":28},{"k":1,"l":"i","x":7,"z":12,"t":18},{"k":1,"l":"i","x":12,"z":14,"t":14},
{"k":2,"l":"i","x":10,"z":42,"t":42},{"k":2,"l":"i","x":15,"z":12,"t":35},{"k":2,"l":"i","x":18,"z":10,"t":45},{"k":2,"l":"i","x":25,"z":8,"t":55},{"k":2,"l":"i","x":37,"z":8,"t":75},{"k":2,"l":"i","x":50,"z":7,"t":84},{"k":2,"l":"i","x":60,"z":5,"t":87},{"k":2,"l":"i","x":67,"z":-1,"t":88},{"k":2,"l":"i","x":75,"z":-6,"t":88},{"k":2,"l":"i","x":83,"z":-1,"t":87},{"k":2,"l":"i","x":90,"z":6,"t":84},{"k":2,"l":"i","x":100,"z":8,"t":72},{"k":2,"l":"i","x":112,"z":8,"t":60},{"k":2,"l":"i","x":125,"z":8,"t":45},{"k":2,"l":"i","x":137,"z":8,"t":38},{"k":2,"l":"i","x":143,"z":22,"t":28},
{"k":3,"l":"j","x":15,"z":17,"t":17},{"k":3,"l":"j","x":18,"z":12,"t":35},{"k":3,"l":"j","x":25,"z":10,"t":52},{"k":3,"l":"j","x":37,"z":9,"t":74},{"k":3,"l":"j","x":50,"z":8,"t":82},{"k":3,"l":"j","x":60,"z":5,"t":85},{"k":3,"l":"j","x":67,"z":-2,"t":86},{"k":3,"l":"j","x":75,"z":-6,"t":86},{"k":3,"l":"j","x":83,"z":-2,"t":85},{"k":3,"l":"j","x":90,"z":7,"t":80},{"k":3,"l":"j","x":100,"z":9,"t":69},{"k":3,"l":"j","x":112,"z":10,"t":57},{"k":3,"l":"j","x":125,"z":10,"t":42},{"k":3,"l":"j","x":137,"z":10,"t":36},{"k":3,"l":"j","x":140,"z":25,"t":25},
{"k":4,"l":"k","x":18,"z":17,"t":17},{"k":4,"l":"k","x":20,"z":12,"t":28},{"k":4,"l":"k","x":25,"z":12,"t":47},{"k":4,"l":"k","x":37,"z":11,"t":73},{"k":4,"l":"k","x":50,"z":9,"t":81},{"k":4,"l":"k","x":60,"z":6,"t":84},{"k":4,"l":"k","x":67,"z":-3,"t":85},{"k":4,"l":"k","x":75,"z":-6,"t":85},{"k":4,"l":"k","x":83,"z":-3,"t":83},{"k":4,"l":"k","x":90,"z":8,"t":77},{"k":4,"l":"k","x":100,"z":10,"t":66},{"k":4,"l":"k","x":112,"z":11,"t":54},{"k":4,"l":"k","x":125,"z":11,"t":41},{"k":4,"l":"k","x":136,"z":12,"t":33},{"k":4,"l":"k","x":139,"z":25,"t":25},
{"k":5,"l":"l","x":20,"z":17,"t":17},{"k":5,"l":"l","x":22,"z":13,"t":30},{"k":5,"l":"l","x":27,"z":12,"t":48},{"k":5,"l":"l","x":37,"z":12,"t":71},{"k":5,"l":"l","x":43,"z":12,"t":71},{"k":5,"l":"l","x":50,"z":10,"t":79},{"k":5,"l":"l","x":60,"z":7,"t":82},{"k":5,"l":"l","x":67,"z":-3,"t":84},{"k":5,"l":"l","x":75,"z":-5,"t":84},{"k":5,"l":"l","x":83,"z":-3,"t":81},{"k":5,"l":"l","x":90,"z":9,"t":75},{"k":5,"l":"l","x":100,"z":11,"t":63},{"k":5,"l":"l","x":112,"z":12,"t":50},{"k":5,"l":"l","x":125,"z":12,"t":39},{"k":5,"l":"l","x":134,"z":14,"t":32},{"k":5,"l":"l","x":137,"z":25,"t":25},
{"k":6,"l":"e","x":17,"z":100,"t":100},{"k":6,"l":"e","x":21,"z":97,"t":105},{"k":6,"l":"e","x":30,"z":92,"t":100},
{"k":7,"l":"e","x":125,"z":75,"t":83},{"k":7,"l":"e","x":130,"z":72,"t":87},{"k":7,"l":"e","x":137,"z":75,"t":80},
{"k":8,"l":"e","x":138,"z":100,"t":100},{"k":8,"l":"e","x":143,"z":94,"t":107},{"k":8,"l":"e","x":148,"z":92,"t":110},
{"k":9,"l":"f","x":55,"z":118,"t":118},{"k":9,"l":"f","x":60,"z":116,"t":120},{"k":9,"l":"f","x":65,"z":118,"t":118},
{"k":10,"l":"f","x":67,"z":118,"t":118},{"k":10,"l":"f","x":70,"z":115,"t":120},{"k":10,"l":"f","x":75,"z":118,"t":118}]},"mark":{"type":"area","clip":true}}]}
]}]}
